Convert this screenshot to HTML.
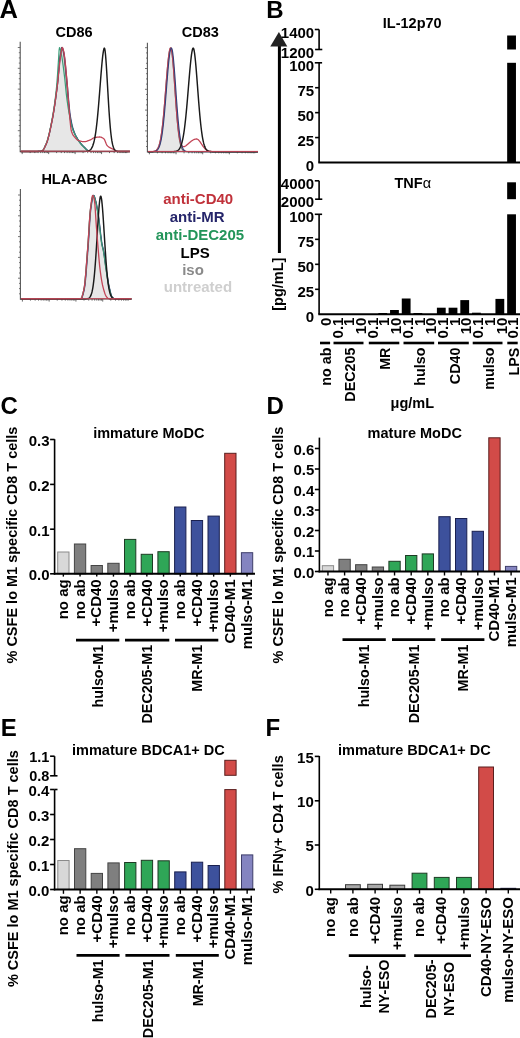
<!DOCTYPE html>
<html><head><meta charset="utf-8"><title>Figure</title>
<style>
html,body{margin:0;padding:0;background:#fff;}
body{width:520px;height:1038px;overflow:hidden;}
svg{display:block;will-change:transform;font-family:"Liberation Sans", sans-serif;}
</style></head>
<body>
<svg width="520" height="1038" viewBox="0 0 520 1038">
<rect x="0" y="0" width="520" height="1038" fill="#fff"/>
<text x="0.60" y="414.10" font-size="24" font-weight="bold" fill="#000">C</text>
<text x="93.20" y="438.30" text-anchor="start" font-size="14.5" font-weight="bold" fill="#000" >immature MoDC</text>
<text transform="translate(17.40,426.60) rotate(-90)" text-anchor="end" font-size="14.5" font-weight="bold" fill="#000" >% CSFE lo M1 specific CD8 T cells</text>
<rect x="57.70" y="552.00" width="11.30" height="21.80" fill="#d8d8d8" stroke="#8a8a8a" stroke-width="1"/>
<rect x="74.40" y="544.00" width="11.30" height="29.80" fill="#7f7f7f" stroke="#444444" stroke-width="1"/>
<rect x="91.10" y="565.50" width="11.30" height="8.30" fill="#7f7f7f" stroke="#444444" stroke-width="1"/>
<rect x="107.80" y="563.30" width="11.30" height="10.50" fill="#7f7f7f" stroke="#444444" stroke-width="1"/>
<rect x="124.50" y="539.40" width="11.30" height="34.40" fill="#2fa657" stroke="#1d3b24" stroke-width="1"/>
<rect x="141.20" y="554.30" width="11.30" height="19.50" fill="#2fa657" stroke="#1d3b24" stroke-width="1"/>
<rect x="157.90" y="551.70" width="11.30" height="22.10" fill="#2fa657" stroke="#1d3b24" stroke-width="1"/>
<rect x="174.60" y="507.00" width="11.30" height="66.80" fill="#3d519c" stroke="#1a2050" stroke-width="1"/>
<rect x="191.30" y="520.50" width="11.30" height="53.30" fill="#3d519c" stroke="#1a2050" stroke-width="1"/>
<rect x="208.00" y="516.10" width="11.30" height="57.70" fill="#3d519c" stroke="#1a2050" stroke-width="1"/>
<rect x="224.70" y="453.30" width="11.30" height="120.50" fill="#d24b48" stroke="#5a1e1e" stroke-width="1"/>
<rect x="241.40" y="552.70" width="11.30" height="21.10" fill="#8484c0" stroke="#3e3e6a" stroke-width="1"/>
<line x1="54.60" y1="439.20" x2="54.60" y2="574.60" stroke="#000" stroke-width="1.6" />
<line x1="53.80" y1="573.80" x2="255.00" y2="573.80" stroke="#000" stroke-width="2.0" />
<line x1="50.10" y1="439.50" x2="54.60" y2="439.50" stroke="#000" stroke-width="1.6" />
<text x="49.50" y="446.00" text-anchor="end" font-size="15" font-weight="bold" fill="#000" >0.3</text>
<line x1="50.10" y1="484.40" x2="54.60" y2="484.40" stroke="#000" stroke-width="1.6" />
<text x="49.50" y="490.90" text-anchor="end" font-size="15" font-weight="bold" fill="#000" >0.2</text>
<line x1="50.10" y1="529.20" x2="54.60" y2="529.20" stroke="#000" stroke-width="1.6" />
<text x="49.50" y="535.70" text-anchor="end" font-size="15" font-weight="bold" fill="#000" >0.1</text>
<line x1="50.10" y1="573.80" x2="54.60" y2="573.80" stroke="#000" stroke-width="1.6" />
<text x="49.50" y="580.30" text-anchor="end" font-size="15" font-weight="bold" fill="#000" >0.0</text>
<line x1="63.35" y1="573.80" x2="63.35" y2="576.60" stroke="#000" stroke-width="1.4" />
<text transform="translate(68.05,579.30) rotate(-90)" text-anchor="end" font-size="15" font-weight="bold" fill="#000" >no ag</text>
<line x1="80.05" y1="573.80" x2="80.05" y2="576.60" stroke="#000" stroke-width="1.4" />
<text transform="translate(84.75,579.30) rotate(-90)" text-anchor="end" font-size="15" font-weight="bold" fill="#000" >no ab</text>
<line x1="96.75" y1="573.80" x2="96.75" y2="576.60" stroke="#000" stroke-width="1.4" />
<text transform="translate(101.45,579.30) rotate(-90)" text-anchor="end" font-size="15" font-weight="bold" fill="#000" >+CD40</text>
<line x1="113.45" y1="573.80" x2="113.45" y2="576.60" stroke="#000" stroke-width="1.4" />
<text transform="translate(118.15,579.30) rotate(-90)" text-anchor="end" font-size="15" font-weight="bold" fill="#000" >+mulso</text>
<line x1="130.15" y1="573.80" x2="130.15" y2="576.60" stroke="#000" stroke-width="1.4" />
<text transform="translate(134.85,579.30) rotate(-90)" text-anchor="end" font-size="15" font-weight="bold" fill="#000" >no ab</text>
<line x1="146.85" y1="573.80" x2="146.85" y2="576.60" stroke="#000" stroke-width="1.4" />
<text transform="translate(151.55,579.30) rotate(-90)" text-anchor="end" font-size="15" font-weight="bold" fill="#000" >+CD40</text>
<line x1="163.55" y1="573.80" x2="163.55" y2="576.60" stroke="#000" stroke-width="1.4" />
<text transform="translate(168.25,579.30) rotate(-90)" text-anchor="end" font-size="15" font-weight="bold" fill="#000" >+mulso</text>
<line x1="180.25" y1="573.80" x2="180.25" y2="576.60" stroke="#000" stroke-width="1.4" />
<text transform="translate(184.95,579.30) rotate(-90)" text-anchor="end" font-size="15" font-weight="bold" fill="#000" >no ab</text>
<line x1="196.95" y1="573.80" x2="196.95" y2="576.60" stroke="#000" stroke-width="1.4" />
<text transform="translate(201.65,579.30) rotate(-90)" text-anchor="end" font-size="15" font-weight="bold" fill="#000" >+CD40</text>
<line x1="213.65" y1="573.80" x2="213.65" y2="576.60" stroke="#000" stroke-width="1.4" />
<text transform="translate(218.35,579.30) rotate(-90)" text-anchor="end" font-size="15" font-weight="bold" fill="#000" >+mulso</text>
<line x1="230.35" y1="573.80" x2="230.35" y2="576.60" stroke="#000" stroke-width="1.4" />
<text transform="translate(235.05,579.30) rotate(-90)" text-anchor="end" font-size="15" font-weight="bold" fill="#000" >CD40-M1</text>
<line x1="247.05" y1="573.80" x2="247.05" y2="576.60" stroke="#000" stroke-width="1.4" />
<text transform="translate(251.75,579.30) rotate(-90)" text-anchor="end" font-size="15" font-weight="bold" fill="#000" >mulso-M1</text>
<line x1="76.00" y1="640.10" x2="119.30" y2="640.10" stroke="#000" stroke-width="2.8" />
<text transform="translate(102.85,644.80) rotate(-90)" text-anchor="end" font-size="14.3" font-weight="bold" fill="#000" >hulso-M1</text>
<line x1="125.00" y1="640.10" x2="169.30" y2="640.10" stroke="#000" stroke-width="2.8" />
<text transform="translate(152.35,644.80) rotate(-90)" text-anchor="end" font-size="14.3" font-weight="bold" fill="#000" >DEC205-M1</text>
<line x1="175.00" y1="640.10" x2="218.30" y2="640.10" stroke="#000" stroke-width="2.8" />
<text transform="translate(201.85,644.80) rotate(-90)" text-anchor="end" font-size="14.3" font-weight="bold" fill="#000" >MR-M1</text>
<text x="266.50" y="414.20" font-size="24" font-weight="bold" fill="#000">D</text>
<text x="367.60" y="437.60" text-anchor="start" font-size="14.5" font-weight="bold" fill="#000" >mature MoDC</text>
<text transform="translate(282.80,426.60) rotate(-90)" text-anchor="end" font-size="14.5" font-weight="bold" fill="#000" >% CSFE lo M1 specific CD8 T cells</text>
<rect x="322.30" y="565.70" width="11.30" height="5.80" fill="#d8d8d8" stroke="#8a8a8a" stroke-width="1"/>
<rect x="338.95" y="559.30" width="11.30" height="12.20" fill="#7f7f7f" stroke="#444444" stroke-width="1"/>
<rect x="355.60" y="564.70" width="11.30" height="6.80" fill="#7f7f7f" stroke="#444444" stroke-width="1"/>
<rect x="372.25" y="567.00" width="11.30" height="4.50" fill="#7f7f7f" stroke="#444444" stroke-width="1"/>
<rect x="388.90" y="561.30" width="11.30" height="10.20" fill="#2fa657" stroke="#1d3b24" stroke-width="1"/>
<rect x="405.55" y="555.50" width="11.30" height="16.00" fill="#2fa657" stroke="#1d3b24" stroke-width="1"/>
<rect x="422.20" y="553.90" width="11.30" height="17.60" fill="#2fa657" stroke="#1d3b24" stroke-width="1"/>
<rect x="438.85" y="516.70" width="11.30" height="54.80" fill="#3d519c" stroke="#1a2050" stroke-width="1"/>
<rect x="455.50" y="518.50" width="11.30" height="53.00" fill="#3d519c" stroke="#1a2050" stroke-width="1"/>
<rect x="472.15" y="531.30" width="11.30" height="40.20" fill="#3d519c" stroke="#1a2050" stroke-width="1"/>
<rect x="488.80" y="437.80" width="11.30" height="133.70" fill="#d24b48" stroke="#5a1e1e" stroke-width="1"/>
<rect x="505.45" y="566.40" width="11.30" height="5.10" fill="#8484c0" stroke="#3e3e6a" stroke-width="1"/>
<line x1="319.40" y1="437.60" x2="319.40" y2="572.30" stroke="#000" stroke-width="1.6" />
<line x1="318.60" y1="571.50" x2="520.00" y2="571.50" stroke="#000" stroke-width="2.0" />
<line x1="314.90" y1="571.50" x2="319.40" y2="571.50" stroke="#000" stroke-width="1.6" />
<text x="314.40" y="577.70" text-anchor="end" font-size="15" font-weight="bold" fill="#000" >0.0</text>
<line x1="314.90" y1="551.00" x2="319.40" y2="551.00" stroke="#000" stroke-width="1.6" />
<text x="314.40" y="557.20" text-anchor="end" font-size="15" font-weight="bold" fill="#000" >0.1</text>
<line x1="314.90" y1="530.50" x2="319.40" y2="530.50" stroke="#000" stroke-width="1.6" />
<text x="314.40" y="536.70" text-anchor="end" font-size="15" font-weight="bold" fill="#000" >0.2</text>
<line x1="314.90" y1="510.00" x2="319.40" y2="510.00" stroke="#000" stroke-width="1.6" />
<text x="314.40" y="516.20" text-anchor="end" font-size="15" font-weight="bold" fill="#000" >0.3</text>
<line x1="314.90" y1="489.50" x2="319.40" y2="489.50" stroke="#000" stroke-width="1.6" />
<text x="314.40" y="495.70" text-anchor="end" font-size="15" font-weight="bold" fill="#000" >0.4</text>
<line x1="314.90" y1="469.00" x2="319.40" y2="469.00" stroke="#000" stroke-width="1.6" />
<text x="314.40" y="475.20" text-anchor="end" font-size="15" font-weight="bold" fill="#000" >0.5</text>
<line x1="314.90" y1="448.50" x2="319.40" y2="448.50" stroke="#000" stroke-width="1.6" />
<text x="314.40" y="454.70" text-anchor="end" font-size="15" font-weight="bold" fill="#000" >0.6</text>
<line x1="327.95" y1="571.50" x2="327.95" y2="575.50" stroke="#000" stroke-width="1.4" />
<text transform="translate(332.65,577.30) rotate(-90)" text-anchor="end" font-size="15" font-weight="bold" fill="#000" >no ag</text>
<line x1="344.60" y1="571.50" x2="344.60" y2="575.50" stroke="#000" stroke-width="1.4" />
<text transform="translate(349.30,577.30) rotate(-90)" text-anchor="end" font-size="15" font-weight="bold" fill="#000" >no ab</text>
<line x1="361.25" y1="571.50" x2="361.25" y2="575.50" stroke="#000" stroke-width="1.4" />
<text transform="translate(365.95,577.30) rotate(-90)" text-anchor="end" font-size="15" font-weight="bold" fill="#000" >+CD40</text>
<line x1="377.90" y1="571.50" x2="377.90" y2="575.50" stroke="#000" stroke-width="1.4" />
<text transform="translate(382.60,577.30) rotate(-90)" text-anchor="end" font-size="15" font-weight="bold" fill="#000" >+mulso</text>
<line x1="394.55" y1="571.50" x2="394.55" y2="575.50" stroke="#000" stroke-width="1.4" />
<text transform="translate(399.25,577.30) rotate(-90)" text-anchor="end" font-size="15" font-weight="bold" fill="#000" >no ab</text>
<line x1="411.20" y1="571.50" x2="411.20" y2="575.50" stroke="#000" stroke-width="1.4" />
<text transform="translate(415.90,577.30) rotate(-90)" text-anchor="end" font-size="15" font-weight="bold" fill="#000" >+CD40</text>
<line x1="427.85" y1="571.50" x2="427.85" y2="575.50" stroke="#000" stroke-width="1.4" />
<text transform="translate(432.55,577.30) rotate(-90)" text-anchor="end" font-size="15" font-weight="bold" fill="#000" >+mulso</text>
<line x1="444.50" y1="571.50" x2="444.50" y2="575.50" stroke="#000" stroke-width="1.4" />
<text transform="translate(449.20,577.30) rotate(-90)" text-anchor="end" font-size="15" font-weight="bold" fill="#000" >no ab</text>
<line x1="461.15" y1="571.50" x2="461.15" y2="575.50" stroke="#000" stroke-width="1.4" />
<text transform="translate(465.85,577.30) rotate(-90)" text-anchor="end" font-size="15" font-weight="bold" fill="#000" >+CD40</text>
<line x1="477.80" y1="571.50" x2="477.80" y2="575.50" stroke="#000" stroke-width="1.4" />
<text transform="translate(482.50,577.30) rotate(-90)" text-anchor="end" font-size="15" font-weight="bold" fill="#000" >+mulso</text>
<line x1="494.45" y1="571.50" x2="494.45" y2="575.50" stroke="#000" stroke-width="1.4" />
<text transform="translate(499.15,577.30) rotate(-90)" text-anchor="end" font-size="15" font-weight="bold" fill="#000" >CD40-M1</text>
<line x1="511.10" y1="571.50" x2="511.10" y2="575.50" stroke="#000" stroke-width="1.4" />
<text transform="translate(515.80,577.30) rotate(-90)" text-anchor="end" font-size="15" font-weight="bold" fill="#000" >mulso-M1</text>
<line x1="342.50" y1="639.70" x2="385.80" y2="639.70" stroke="#000" stroke-width="2.8" />
<text transform="translate(369.35,644.60) rotate(-90)" text-anchor="end" font-size="14.3" font-weight="bold" fill="#000" >hulso-M1</text>
<line x1="392.00" y1="639.70" x2="435.30" y2="639.70" stroke="#000" stroke-width="2.8" />
<text transform="translate(418.85,644.60) rotate(-90)" text-anchor="end" font-size="14.3" font-weight="bold" fill="#000" >DEC205-M1</text>
<line x1="441.10" y1="639.70" x2="484.40" y2="639.70" stroke="#000" stroke-width="2.8" />
<text transform="translate(467.95,644.60) rotate(-90)" text-anchor="end" font-size="14.3" font-weight="bold" fill="#000" >MR-M1</text>
<text x="0.70" y="735.50" font-size="24" font-weight="bold" fill="#000">E</text>
<text x="72.00" y="755.20" text-anchor="start" font-size="14.5" font-weight="bold" fill="#000" >immature BDCA1+ DC</text>
<text transform="translate(17.70,750.20) rotate(-90)" text-anchor="end" font-size="14.5" font-weight="bold" fill="#000" >% CSFE lo M1 specific CD8 T cells</text>
<rect x="57.80" y="860.50" width="11.30" height="29.00" fill="#d8d8d8" stroke="#8a8a8a" stroke-width="1"/>
<rect x="74.50" y="848.70" width="11.30" height="40.80" fill="#7f7f7f" stroke="#444444" stroke-width="1"/>
<rect x="91.20" y="873.40" width="11.30" height="16.10" fill="#7f7f7f" stroke="#444444" stroke-width="1"/>
<rect x="107.90" y="862.90" width="11.30" height="26.60" fill="#7f7f7f" stroke="#444444" stroke-width="1"/>
<rect x="124.60" y="862.50" width="11.30" height="27.00" fill="#2fa657" stroke="#1d3b24" stroke-width="1"/>
<rect x="141.30" y="860.30" width="11.30" height="29.20" fill="#2fa657" stroke="#1d3b24" stroke-width="1"/>
<rect x="158.00" y="860.80" width="11.30" height="28.70" fill="#2fa657" stroke="#1d3b24" stroke-width="1"/>
<rect x="174.70" y="871.90" width="11.30" height="17.60" fill="#3d519c" stroke="#1a2050" stroke-width="1"/>
<rect x="191.40" y="862.20" width="11.30" height="27.30" fill="#3d519c" stroke="#1a2050" stroke-width="1"/>
<rect x="208.10" y="865.50" width="11.30" height="24.00" fill="#3d519c" stroke="#1a2050" stroke-width="1"/>
<rect x="224.80" y="760.30" width="11.30" height="15.00" fill="#d24b48" stroke="#5a1e1e" stroke-width="1"/>
<rect x="224.80" y="789.60" width="11.30" height="99.90" fill="#d24b48" stroke="#5a1e1e" stroke-width="1"/>
<rect x="241.50" y="854.90" width="11.30" height="34.60" fill="#8484c0" stroke="#3e3e6a" stroke-width="1"/>
<line x1="54.60" y1="789.50" x2="54.60" y2="890.30" stroke="#000" stroke-width="1.6" />
<line x1="53.80" y1="889.50" x2="255.00" y2="889.50" stroke="#000" stroke-width="2.0" />
<line x1="50.10" y1="889.50" x2="54.60" y2="889.50" stroke="#000" stroke-width="1.6" />
<text x="49.30" y="895.50" text-anchor="end" font-size="15" font-weight="bold" fill="#000" >0.0</text>
<line x1="50.10" y1="864.50" x2="54.60" y2="864.50" stroke="#000" stroke-width="1.6" />
<text x="49.30" y="870.50" text-anchor="end" font-size="15" font-weight="bold" fill="#000" >0.1</text>
<line x1="50.10" y1="839.50" x2="54.60" y2="839.50" stroke="#000" stroke-width="1.6" />
<text x="49.30" y="845.50" text-anchor="end" font-size="15" font-weight="bold" fill="#000" >0.2</text>
<line x1="50.10" y1="814.50" x2="54.60" y2="814.50" stroke="#000" stroke-width="1.6" />
<text x="49.30" y="820.50" text-anchor="end" font-size="15" font-weight="bold" fill="#000" >0.3</text>
<line x1="50.10" y1="789.50" x2="54.60" y2="789.50" stroke="#000" stroke-width="1.6" />
<text x="49.30" y="795.50" text-anchor="end" font-size="15" font-weight="bold" fill="#000" >0.4</text>
<line x1="63.45" y1="889.50" x2="63.45" y2="893.80" stroke="#000" stroke-width="1.4" />
<text transform="translate(68.15,895.30) rotate(-90)" text-anchor="end" font-size="15" font-weight="bold" fill="#000" >no ag</text>
<line x1="80.15" y1="889.50" x2="80.15" y2="893.80" stroke="#000" stroke-width="1.4" />
<text transform="translate(84.85,895.30) rotate(-90)" text-anchor="end" font-size="15" font-weight="bold" fill="#000" >no ab</text>
<line x1="96.85" y1="889.50" x2="96.85" y2="893.80" stroke="#000" stroke-width="1.4" />
<text transform="translate(101.55,895.30) rotate(-90)" text-anchor="end" font-size="15" font-weight="bold" fill="#000" >+CD40</text>
<line x1="113.55" y1="889.50" x2="113.55" y2="893.80" stroke="#000" stroke-width="1.4" />
<text transform="translate(118.25,895.30) rotate(-90)" text-anchor="end" font-size="15" font-weight="bold" fill="#000" >+mulso</text>
<line x1="130.25" y1="889.50" x2="130.25" y2="893.80" stroke="#000" stroke-width="1.4" />
<text transform="translate(134.95,895.30) rotate(-90)" text-anchor="end" font-size="15" font-weight="bold" fill="#000" >no ab</text>
<line x1="146.95" y1="889.50" x2="146.95" y2="893.80" stroke="#000" stroke-width="1.4" />
<text transform="translate(151.65,895.30) rotate(-90)" text-anchor="end" font-size="15" font-weight="bold" fill="#000" >+CD40</text>
<line x1="163.65" y1="889.50" x2="163.65" y2="893.80" stroke="#000" stroke-width="1.4" />
<text transform="translate(168.35,895.30) rotate(-90)" text-anchor="end" font-size="15" font-weight="bold" fill="#000" >+mulso</text>
<line x1="180.35" y1="889.50" x2="180.35" y2="893.80" stroke="#000" stroke-width="1.4" />
<text transform="translate(185.05,895.30) rotate(-90)" text-anchor="end" font-size="15" font-weight="bold" fill="#000" >no ab</text>
<line x1="197.05" y1="889.50" x2="197.05" y2="893.80" stroke="#000" stroke-width="1.4" />
<text transform="translate(201.75,895.30) rotate(-90)" text-anchor="end" font-size="15" font-weight="bold" fill="#000" >+CD40</text>
<line x1="213.75" y1="889.50" x2="213.75" y2="893.80" stroke="#000" stroke-width="1.4" />
<text transform="translate(218.45,895.30) rotate(-90)" text-anchor="end" font-size="15" font-weight="bold" fill="#000" >+mulso</text>
<line x1="230.45" y1="889.50" x2="230.45" y2="893.80" stroke="#000" stroke-width="1.4" />
<text transform="translate(235.15,895.30) rotate(-90)" text-anchor="end" font-size="15" font-weight="bold" fill="#000" >CD40-M1</text>
<line x1="247.15" y1="889.50" x2="247.15" y2="893.80" stroke="#000" stroke-width="1.4" />
<text transform="translate(251.85,895.30) rotate(-90)" text-anchor="end" font-size="15" font-weight="bold" fill="#000" >mulso-M1</text>
<line x1="76.50" y1="955.40" x2="119.60" y2="955.40" stroke="#000" stroke-width="2.8" />
<text transform="translate(103.25,959.50) rotate(-90)" text-anchor="end" font-size="14.3" font-weight="bold" fill="#000" >hulso-M1</text>
<line x1="125.40" y1="955.40" x2="169.50" y2="955.40" stroke="#000" stroke-width="2.8" />
<text transform="translate(152.65,959.50) rotate(-90)" text-anchor="end" font-size="14.3" font-weight="bold" fill="#000" >DEC205-M1</text>
<line x1="175.80" y1="955.40" x2="218.80" y2="955.40" stroke="#000" stroke-width="2.8" />
<text transform="translate(202.50,959.50) rotate(-90)" text-anchor="end" font-size="14.3" font-weight="bold" fill="#000" >MR-M1</text>
<line x1="54.60" y1="756.20" x2="54.60" y2="775.80" stroke="#000" stroke-width="1.6" />
<line x1="50.10" y1="756.20" x2="54.60" y2="756.20" stroke="#000" stroke-width="1.6" />
<line x1="50.10" y1="775.80" x2="57.50" y2="775.80" stroke="#000" stroke-width="1.6" />
<line x1="54.60" y1="789.50" x2="57.50" y2="789.50" stroke="#000" stroke-width="1.6" />
<text x="49.30" y="762.20" text-anchor="end" font-size="14.5" font-weight="bold" fill="#000" >1.1</text>
<text x="49.30" y="781.40" text-anchor="end" font-size="14.5" font-weight="bold" fill="#000" >0.8</text>
<text x="265.60" y="735.50" font-size="24" font-weight="bold" fill="#000">F</text>
<text x="338.00" y="755.00" text-anchor="start" font-size="14.5" font-weight="bold" fill="#000" >immature BDCA1+ DC</text>
<text transform="translate(282.80,755.30) rotate(-90)" text-anchor="end" font-size="14.5" font-weight="bold" fill="#000" >% IFN<tspan font-weight="normal">&#947;</tspan>+ CD4 T cells</text>
<rect x="345.50" y="884.70" width="14.80" height="4.60" fill="#a9a9a9" stroke="#3a3a3a" stroke-width="1"/>
<rect x="367.70" y="884.30" width="14.80" height="5.00" fill="#a9a9a9" stroke="#3a3a3a" stroke-width="1"/>
<rect x="389.90" y="885.20" width="14.80" height="4.10" fill="#a9a9a9" stroke="#3a3a3a" stroke-width="1"/>
<rect x="412.10" y="873.20" width="14.80" height="16.10" fill="#2fa657" stroke="#1d3b24" stroke-width="1"/>
<rect x="434.30" y="877.40" width="14.80" height="11.90" fill="#2fa657" stroke="#1d3b24" stroke-width="1"/>
<rect x="456.50" y="877.40" width="14.80" height="11.90" fill="#2fa657" stroke="#1d3b24" stroke-width="1"/>
<rect x="478.70" y="767.00" width="14.80" height="122.30" fill="#d24b48" stroke="#5a1e1e" stroke-width="1"/>
<rect x="500.90" y="888.30" width="14.80" height="1.00" fill="#8484c0" stroke="#3e3e6a" stroke-width="1"/>
<line x1="319.30" y1="756.00" x2="319.30" y2="890.10" stroke="#000" stroke-width="1.6" />
<line x1="318.50" y1="889.30" x2="520.00" y2="889.30" stroke="#000" stroke-width="2.0" />
<line x1="314.80" y1="889.30" x2="319.30" y2="889.30" stroke="#000" stroke-width="1.6" />
<text x="313.80" y="895.50" text-anchor="end" font-size="15" font-weight="bold" fill="#000" >0</text>
<line x1="314.80" y1="845.00" x2="319.30" y2="845.00" stroke="#000" stroke-width="1.6" />
<text x="313.80" y="851.20" text-anchor="end" font-size="15" font-weight="bold" fill="#000" >5</text>
<line x1="314.80" y1="800.80" x2="319.30" y2="800.80" stroke="#000" stroke-width="1.6" />
<text x="313.80" y="807.00" text-anchor="end" font-size="15" font-weight="bold" fill="#000" >10</text>
<line x1="314.80" y1="756.40" x2="319.30" y2="756.40" stroke="#000" stroke-width="1.6" />
<text x="313.80" y="762.60" text-anchor="end" font-size="15" font-weight="bold" fill="#000" >15</text>
<line x1="330.70" y1="889.30" x2="330.70" y2="893.60" stroke="#000" stroke-width="1.4" />
<text transform="translate(335.40,897.00) rotate(-90)" text-anchor="end" font-size="15" font-weight="bold" fill="#000" >no ag</text>
<line x1="352.90" y1="889.30" x2="352.90" y2="893.60" stroke="#000" stroke-width="1.4" />
<text transform="translate(357.60,897.00) rotate(-90)" text-anchor="end" font-size="15" font-weight="bold" fill="#000" >no ab</text>
<line x1="375.10" y1="889.30" x2="375.10" y2="893.60" stroke="#000" stroke-width="1.4" />
<text transform="translate(379.80,897.00) rotate(-90)" text-anchor="end" font-size="15" font-weight="bold" fill="#000" >+CD40</text>
<line x1="397.30" y1="889.30" x2="397.30" y2="893.60" stroke="#000" stroke-width="1.4" />
<text transform="translate(402.00,897.00) rotate(-90)" text-anchor="end" font-size="15" font-weight="bold" fill="#000" >+mulso</text>
<line x1="419.50" y1="889.30" x2="419.50" y2="893.60" stroke="#000" stroke-width="1.4" />
<text transform="translate(424.20,897.00) rotate(-90)" text-anchor="end" font-size="15" font-weight="bold" fill="#000" >no ab</text>
<line x1="441.70" y1="889.30" x2="441.70" y2="893.60" stroke="#000" stroke-width="1.4" />
<text transform="translate(446.40,897.00) rotate(-90)" text-anchor="end" font-size="15" font-weight="bold" fill="#000" >+CD40</text>
<line x1="463.90" y1="889.30" x2="463.90" y2="893.60" stroke="#000" stroke-width="1.4" />
<text transform="translate(468.60,897.00) rotate(-90)" text-anchor="end" font-size="15" font-weight="bold" fill="#000" >+mulso</text>
<line x1="486.10" y1="889.30" x2="486.10" y2="893.60" stroke="#000" stroke-width="1.4" />
<text transform="translate(490.80,897.00) rotate(-90)" text-anchor="end" font-size="15" font-weight="bold" fill="#000" >CD40-NY-ESO</text>
<line x1="508.30" y1="889.30" x2="508.30" y2="893.60" stroke="#000" stroke-width="1.4" />
<text transform="translate(513.00,897.00) rotate(-90)" text-anchor="end" font-size="15" font-weight="bold" fill="#000" >mulso-NY-ESO</text>
<line x1="348.80" y1="955.60" x2="405.60" y2="955.60" stroke="#000" stroke-width="2.8" />
<text transform="translate(370.90,986.60) rotate(-90)" text-anchor="middle" font-size="14.3" font-weight="bold" fill="#000" >hulso-</text>
<text transform="translate(388.50,986.60) rotate(-90)" text-anchor="middle" font-size="14.3" font-weight="bold" fill="#000" >NY-ESO</text>
<line x1="414.20" y1="955.60" x2="471.00" y2="955.60" stroke="#000" stroke-width="2.8" />
<text transform="translate(436.30,989.00) rotate(-90)" text-anchor="middle" font-size="14.3" font-weight="bold" fill="#000" >DEC205-</text>
<text transform="translate(453.90,989.00) rotate(-90)" text-anchor="middle" font-size="14.3" font-weight="bold" fill="#000" >NY-ESO</text>
<text x="266.30" y="17.60" font-size="24" font-weight="bold" fill="#000">B</text>
<text x="382.80" y="28.30" text-anchor="start" font-size="14.5" font-weight="bold" fill="#000" >IL-12p70</text>
<text x="394.50" y="187.50" text-anchor="start" font-size="14.5" font-weight="bold" fill="#000" >TNF<tspan font-weight="normal">&#945;</tspan></text>
<line x1="319.10" y1="29.50" x2="319.10" y2="49.50" stroke="#000" stroke-width="1.6" />
<line x1="314.80" y1="29.50" x2="319.10" y2="29.50" stroke="#000" stroke-width="1.6" />
<line x1="315.10" y1="49.50" x2="322.30" y2="49.50" stroke="#000" stroke-width="1.6" />
<line x1="319.10" y1="62.80" x2="319.10" y2="162.50" stroke="#000" stroke-width="1.6" />
<line x1="314.80" y1="62.80" x2="322.10" y2="62.80" stroke="#000" stroke-width="1.6" />
<line x1="315.10" y1="137.57" x2="319.10" y2="137.57" stroke="#000" stroke-width="1.6" />
<line x1="315.10" y1="112.65" x2="319.10" y2="112.65" stroke="#000" stroke-width="1.6" />
<line x1="315.10" y1="87.72" x2="319.10" y2="87.72" stroke="#000" stroke-width="1.6" />
<line x1="318.30" y1="162.50" x2="520.00" y2="162.50" stroke="#000" stroke-width="2.0" />
<rect x="507.16" y="35.50" width="8.80" height="14.00" fill="#000"/>
<rect x="507.16" y="62.80" width="8.80" height="99.70" fill="#000"/>
<text x="314.20" y="37.60" text-anchor="end" font-size="15" font-weight="bold" fill="#000" >1400</text>
<text x="314.20" y="57.60" text-anchor="end" font-size="15" font-weight="bold" fill="#000" >1200</text>
<text x="314.20" y="70.90" text-anchor="end" font-size="15" font-weight="bold" fill="#000" >100</text>
<text x="314.20" y="95.80" text-anchor="end" font-size="15" font-weight="bold" fill="#000" >75</text>
<text x="314.20" y="120.90" text-anchor="end" font-size="15" font-weight="bold" fill="#000" >50</text>
<text x="314.20" y="145.80" text-anchor="end" font-size="15" font-weight="bold" fill="#000" >25</text>
<text x="314.20" y="170.60" text-anchor="end" font-size="15" font-weight="bold" fill="#000" >0</text>
<line x1="319.10" y1="180.80" x2="319.10" y2="199.20" stroke="#000" stroke-width="1.6" />
<line x1="314.80" y1="180.80" x2="319.10" y2="180.80" stroke="#000" stroke-width="1.6" />
<line x1="315.10" y1="199.20" x2="322.30" y2="199.20" stroke="#000" stroke-width="1.6" />
<line x1="319.10" y1="214.30" x2="319.10" y2="314.30" stroke="#000" stroke-width="1.6" />
<line x1="314.80" y1="214.30" x2="322.10" y2="214.30" stroke="#000" stroke-width="1.6" />
<line x1="315.10" y1="289.31" x2="319.10" y2="289.31" stroke="#000" stroke-width="1.6" />
<line x1="315.10" y1="264.32" x2="319.10" y2="264.32" stroke="#000" stroke-width="1.6" />
<line x1="315.10" y1="239.34" x2="319.10" y2="239.34" stroke="#000" stroke-width="1.6" />
<line x1="318.30" y1="314.30" x2="520.00" y2="314.30" stroke="#000" stroke-width="2.0" />
<rect x="378.35" y="313.00" width="8.80" height="1.30" fill="#000"/>
<rect x="390.06" y="310.00" width="8.80" height="4.30" fill="#000"/>
<rect x="401.77" y="298.50" width="8.80" height="15.80" fill="#000"/>
<rect x="413.48" y="313.00" width="8.80" height="1.30" fill="#000"/>
<rect x="436.90" y="307.70" width="8.80" height="6.60" fill="#000"/>
<rect x="448.61" y="307.70" width="8.80" height="6.60" fill="#000"/>
<rect x="460.32" y="300.10" width="8.80" height="14.20" fill="#000"/>
<rect x="472.03" y="312.70" width="8.80" height="1.60" fill="#000"/>
<rect x="495.45" y="298.90" width="8.80" height="15.40" fill="#000"/>
<rect x="507.16" y="182.30" width="8.80" height="16.90" fill="#000"/>
<rect x="507.16" y="214.30" width="8.80" height="100.00" fill="#000"/>
<text x="314.20" y="188.90" text-anchor="end" font-size="15" font-weight="bold" fill="#000" >4000</text>
<text x="314.20" y="207.30" text-anchor="end" font-size="15" font-weight="bold" fill="#000" >2000</text>
<text x="314.20" y="222.40" text-anchor="end" font-size="15" font-weight="bold" fill="#000" >100</text>
<text x="314.20" y="247.30" text-anchor="end" font-size="15" font-weight="bold" fill="#000" >75</text>
<text x="314.20" y="272.30" text-anchor="end" font-size="15" font-weight="bold" fill="#000" >50</text>
<text x="314.20" y="297.00" text-anchor="end" font-size="15" font-weight="bold" fill="#000" >25</text>
<text x="314.20" y="322.40" text-anchor="end" font-size="15" font-weight="bold" fill="#000" >0</text>
<line x1="279.40" y1="44.00" x2="279.40" y2="253.00" stroke="#000" stroke-width="3.0" />
<polygon points="278.9,32.0 270.3,46.5 287.3,46.5" fill="#222"/>
<text transform="translate(283.00,257.60) rotate(-90)" text-anchor="end" font-size="14.5" font-weight="bold" fill="#000" >[pg/mL]</text>
<text transform="translate(330.90,317.60) rotate(-90)" text-anchor="end" font-size="15" font-weight="bold" fill="#000" >0</text>
<text transform="translate(342.61,317.60) rotate(-90)" text-anchor="end" font-size="15" font-weight="bold" fill="#000" >0.1</text>
<text transform="translate(354.32,317.60) rotate(-90)" text-anchor="end" font-size="15" font-weight="bold" fill="#000" >1</text>
<text transform="translate(366.03,317.60) rotate(-90)" text-anchor="end" font-size="15" font-weight="bold" fill="#000" >10</text>
<text transform="translate(377.74,317.60) rotate(-90)" text-anchor="end" font-size="15" font-weight="bold" fill="#000" >0.1</text>
<text transform="translate(389.45,317.60) rotate(-90)" text-anchor="end" font-size="15" font-weight="bold" fill="#000" >1</text>
<text transform="translate(401.16,317.60) rotate(-90)" text-anchor="end" font-size="15" font-weight="bold" fill="#000" >10</text>
<text transform="translate(412.87,317.60) rotate(-90)" text-anchor="end" font-size="15" font-weight="bold" fill="#000" >0.1</text>
<text transform="translate(424.58,317.60) rotate(-90)" text-anchor="end" font-size="15" font-weight="bold" fill="#000" >1</text>
<text transform="translate(436.29,317.60) rotate(-90)" text-anchor="end" font-size="15" font-weight="bold" fill="#000" >10</text>
<text transform="translate(448.00,317.60) rotate(-90)" text-anchor="end" font-size="15" font-weight="bold" fill="#000" >0.1</text>
<text transform="translate(459.71,317.60) rotate(-90)" text-anchor="end" font-size="15" font-weight="bold" fill="#000" >1</text>
<text transform="translate(471.42,317.60) rotate(-90)" text-anchor="end" font-size="15" font-weight="bold" fill="#000" >10</text>
<text transform="translate(483.13,317.60) rotate(-90)" text-anchor="end" font-size="15" font-weight="bold" fill="#000" >0.1</text>
<text transform="translate(494.84,317.60) rotate(-90)" text-anchor="end" font-size="15" font-weight="bold" fill="#000" >1</text>
<text transform="translate(506.55,317.60) rotate(-90)" text-anchor="end" font-size="15" font-weight="bold" fill="#000" >10</text>
<text transform="translate(518.26,317.60) rotate(-90)" text-anchor="end" font-size="15" font-weight="bold" fill="#000" >0.1</text>
<line x1="320.00" y1="343.00" x2="330.10" y2="343.00" stroke="#000" stroke-width="2.6" />
<text transform="translate(331.35,347.60) rotate(-90)" text-anchor="end" font-size="14.3" font-weight="bold" fill="#000" >no ab</text>
<line x1="333.50" y1="343.00" x2="363.50" y2="343.00" stroke="#000" stroke-width="2.6" />
<text transform="translate(354.80,347.60) rotate(-90)" text-anchor="end" font-size="14.3" font-weight="bold" fill="#000" >DEC205</text>
<line x1="368.80" y1="343.00" x2="399.30" y2="343.00" stroke="#000" stroke-width="2.6" />
<text transform="translate(390.35,347.60) rotate(-90)" text-anchor="end" font-size="14.3" font-weight="bold" fill="#000" >MR</text>
<line x1="403.50" y1="343.00" x2="434.20" y2="343.00" stroke="#000" stroke-width="2.6" />
<text transform="translate(425.15,347.60) rotate(-90)" text-anchor="end" font-size="14.3" font-weight="bold" fill="#000" >hulso</text>
<line x1="438.00" y1="343.00" x2="468.80" y2="343.00" stroke="#000" stroke-width="2.6" />
<text transform="translate(459.70,347.60) rotate(-90)" text-anchor="end" font-size="14.3" font-weight="bold" fill="#000" >CD40</text>
<line x1="472.70" y1="343.00" x2="502.50" y2="343.00" stroke="#000" stroke-width="2.6" />
<text transform="translate(493.90,347.60) rotate(-90)" text-anchor="end" font-size="14.3" font-weight="bold" fill="#000" >mulso</text>
<line x1="507.30" y1="343.00" x2="517.70" y2="343.00" stroke="#000" stroke-width="2.6" />
<text transform="translate(518.80,347.60) rotate(-90)" text-anchor="end" font-size="14.3" font-weight="bold" fill="#000" >LPS</text>
<text x="412.30" y="407.70" text-anchor="middle" font-size="14.5" font-weight="bold" fill="#000" >&#956;g/mL</text>
<text x="-0.5" y="17.8" font-size="25.5" font-weight="bold" fill="#000">A</text>
<text x="74.00" y="36.80" text-anchor="middle" font-size="14.5" font-weight="bold" fill="#000" >CD86</text>
<text x="200.30" y="36.80" text-anchor="middle" font-size="14.5" font-weight="bold" fill="#000" >CD83</text>
<text x="74.40" y="183.80" text-anchor="middle" font-size="14.5" font-weight="bold" fill="#000" >HLA-ABC</text>
<text x="198.20" y="204.40" text-anchor="middle" font-size="15" font-weight="bold" fill="#c0313a" >anti-CD40</text>
<text x="197.20" y="222.30" text-anchor="middle" font-size="15" font-weight="bold" fill="#25256a" >anti-MR</text>
<text x="199.90" y="240.40" text-anchor="middle" font-size="15" font-weight="bold" fill="#23955a" >anti-DEC205</text>
<text x="195.20" y="258.30" text-anchor="middle" font-size="15" font-weight="bold" fill="#000" >LPS</text>
<text x="193.00" y="274.60" text-anchor="middle" font-size="15" font-weight="bold" fill="#8a8a8a" >iso</text>
<text x="197.90" y="292.00" text-anchor="middle" font-size="15" font-weight="bold" fill="#cfcfcf" >untreated</text>
<path d="M20.20,151.50 L20.60,151.50 L21.00,151.50 L21.40,151.50 L21.80,151.50 L22.20,151.50 L22.60,151.50 L23.00,151.50 L23.40,151.50 L23.80,151.50 L24.20,151.50 L24.60,151.50 L25.00,151.50 L25.40,151.50 L25.80,151.50 L26.20,151.50 L26.60,151.50 L27.00,151.50 L27.40,151.50 L27.80,151.50 L28.20,151.50 L28.60,151.50 L29.00,151.50 L29.40,151.50 L29.80,151.50 L30.20,151.50 L30.60,151.50 L31.00,151.50 L31.40,151.50 L31.80,151.50 L32.20,151.50 L32.60,151.50 L33.00,151.50 L33.40,151.50 L33.80,151.50 L34.20,151.50 L34.60,151.50 L35.00,151.50 L35.40,151.50 L35.80,151.50 L36.20,151.50 L36.60,151.50 L37.00,151.49 L37.40,151.48 L37.80,151.47 L38.20,151.45 L38.60,151.44 L39.00,151.41 L39.40,151.39 L39.80,151.36 L40.20,151.33 L40.60,151.30 L41.00,151.26 L41.40,151.22 L41.80,151.16 L42.20,150.97 L42.60,150.64 L43.00,150.19 L43.40,149.63 L43.80,148.98 L44.20,148.26 L44.60,147.47 L45.00,146.64 L45.40,145.77 L45.80,144.89 L46.20,144.00 L46.60,143.05 L47.00,141.97 L47.40,140.77 L47.80,139.46 L48.20,138.04 L48.60,136.53 L49.00,134.93 L49.40,133.25 L49.80,131.50 L50.20,129.69 L50.60,127.83 L51.00,125.92 L51.40,123.97 L51.80,122.00 L52.20,119.99 L52.60,117.89 L53.00,115.69 L53.40,113.38 L53.80,110.98 L54.20,108.47 L54.60,105.86 L55.00,103.15 L55.40,100.34 L55.80,97.43 L56.20,94.43 L56.60,91.33 L57.00,88.13 L57.40,84.75 L57.80,80.73 L58.20,76.23 L58.60,71.49 L59.00,66.76 L59.40,62.29 L59.80,58.34 L60.20,55.15 L60.60,52.59 L61.00,50.12 L61.40,48.25 L61.80,47.50 L62.20,47.96 L62.60,49.13 L63.00,50.68 L63.40,52.42 L63.80,54.82 L64.20,57.87 L64.60,61.45 L65.00,65.41 L65.40,69.63 L65.80,73.98 L66.20,78.32 L66.60,82.56 L67.00,87.20 L67.40,92.15 L67.80,97.04 L68.20,101.50 L68.60,105.63 L69.00,109.52 L69.40,112.82 L69.80,115.40 L70.20,117.76 L70.60,119.92 L71.00,121.91 L71.40,123.72 L71.80,125.36 L72.20,126.85 L72.60,128.19 L73.00,129.40 L73.40,130.53 L73.80,131.60 L74.20,132.59 L74.60,133.53 L75.00,134.41 L75.40,135.25 L75.80,136.03 L76.20,136.79 L76.60,137.50 L77.00,138.20 L77.40,138.87 L77.80,139.52 L78.20,140.15 L78.60,140.76 L79.00,141.35 L79.40,141.92 L79.80,142.47 L80.20,143.01 L80.60,143.52 L81.00,144.02 L81.40,144.49 L81.80,144.95 L82.20,145.38 L82.60,145.80 L83.00,146.20 L83.40,146.59 L83.80,146.99 L84.20,147.40 L84.60,147.82 L85.00,148.23 L85.40,148.63 L85.80,149.03 L86.20,149.41 L86.60,149.78 L87.00,150.12 L87.40,150.43 L87.80,150.71 L88.20,150.96 L88.60,151.16 L89.00,151.32 L89.40,151.43 L89.80,151.49 L90.20,151.50 L90.60,151.50 L91.00,151.50 L91.40,151.50 L91.80,151.50 L92.20,151.50 L92.60,151.50 L93.00,151.50 L93.40,151.50 L93.80,151.50 L94.20,151.50 L94.60,151.50 L95.00,151.50 L95.40,151.50 L95.80,151.50 L96.20,151.50 L96.60,151.50 L97.00,151.50 L97.40,151.50 L97.80,151.50 L98.20,151.50 L98.60,151.50 L99.00,151.50 L99.40,151.50 L99.80,151.50 L100.20,151.50 L100.60,151.50 L101.00,151.50 L101.40,151.50 L101.80,151.50 L102.20,151.50 L102.60,151.50 L103.00,151.50 L103.40,151.50 L103.80,151.50 L104.20,151.50 L104.60,151.50 L105.00,151.50 L105.40,151.50 L105.80,151.50 L106.20,151.50 L106.60,151.50 L107.00,151.50 L107.40,151.50 L107.80,151.50 L108.20,151.50 L108.60,151.50 L109.00,151.50 L109.40,151.50 L109.80,151.50 L110.20,151.50 L110.60,151.50 L111.00,151.50 L111.40,151.50 L111.80,151.50 L112.20,151.50 L112.60,151.50 L113.00,151.50 L113.40,151.50 L113.80,151.50 L114.20,151.50 L114.60,151.50 L115.00,151.50 L115.40,151.50 L115.80,151.50 L116.20,151.50 L116.60,151.50 L117.00,151.50 L117.40,151.50 L117.80,151.50 L118.20,151.50 L118.60,151.50 L119.00,151.50 L119.40,151.50 L119.80,151.50 L120.20,151.50 L120.60,151.50 L121.00,151.50 L121.40,151.50 L121.80,151.50 L122.20,151.50 L122.60,151.50 L123.00,151.50 L123.40,151.50 L123.80,151.50 L124.20,151.50 L124.60,151.50 L125.00,151.50 L125.40,151.50 L125.80,151.50 L126.20,151.50 L126.60,151.50 L127.00,151.50 L127.40,151.50 L127.80,151.50 L128.20,151.50 L128.60,151.50 L129.00,151.50 L129.40,151.50 L129.80,151.50 L130.00,151.50 L20.20,151.50 Z" fill="#e7e7e7" stroke="none"/>
<path d="M20.70,151.50 L21.10,151.50 L21.50,151.50 L21.90,151.50 L22.30,151.50 L22.70,151.50 L23.10,151.50 L23.50,151.50 L23.90,151.50 L24.30,151.50 L24.70,151.50 L25.10,151.50 L25.50,151.50 L25.90,151.50 L26.30,151.50 L26.70,151.50 L27.10,151.50 L27.50,151.50 L27.90,151.50 L28.30,151.50 L28.70,151.50 L29.10,151.50 L29.50,151.50 L29.90,151.50 L30.30,151.50 L30.70,151.50 L31.10,151.50 L31.50,151.50 L31.90,151.50 L32.30,151.50 L32.70,151.50 L33.10,151.50 L33.50,151.50 L33.90,151.50 L34.30,151.50 L34.70,151.50 L35.10,151.50 L35.50,151.50 L35.90,151.50 L36.30,151.50 L36.70,151.50 L37.10,151.49 L37.50,151.48 L37.90,151.47 L38.30,151.45 L38.70,151.43 L39.10,151.41 L39.50,151.38 L39.90,151.35 L40.30,151.32 L40.70,151.29 L41.10,151.25 L41.50,151.21 L41.90,151.12 L42.30,150.90 L42.70,150.54 L43.10,150.06 L43.50,149.48 L43.90,148.81 L44.30,148.07 L44.70,147.27 L45.10,146.42 L45.50,145.55 L45.90,144.66 L46.30,143.77 L46.70,142.79 L47.10,141.68 L47.50,140.45 L47.90,139.11 L48.30,137.67 L48.70,136.14 L49.10,134.51 L49.50,132.82 L49.90,131.05 L50.30,129.23 L50.70,127.35 L51.10,125.43 L51.50,123.48 L51.90,121.50 L52.30,119.47 L52.70,117.35 L53.10,115.12 L53.50,112.79 L53.90,110.36 L54.30,107.82 L54.70,105.19 L55.10,102.46 L55.50,99.62 L55.90,96.69 L56.30,93.66 L56.70,90.54 L57.10,87.32 L57.50,83.81 L57.90,79.64 L58.30,75.06 L58.70,70.29 L59.10,65.61 L59.50,61.24 L59.90,57.46 L60.30,54.50 L60.70,51.95 L61.10,49.58 L61.50,47.93 L61.90,47.53 L62.30,48.20 L62.70,49.49 L63.10,51.09 L63.50,52.95 L63.90,55.53 L64.30,58.72 L64.70,62.41 L65.10,66.45 L65.50,70.71 L65.90,75.07 L66.30,79.39 L66.70,83.67 L67.10,88.42 L67.50,93.39 L67.90,98.21 L68.30,102.53 L68.70,106.64 L69.10,110.42 L69.50,113.50 L69.90,116.01 L70.30,118.31 L70.70,120.44 L71.10,122.38 L71.50,124.14 L71.90,125.75 L72.30,127.20 L72.70,128.50 L73.10,129.69 L73.50,130.81 L73.90,131.85 L74.30,132.83 L74.70,133.76 L75.10,134.62 L75.50,135.45 L75.90,136.23 L76.30,136.97 L76.70,137.68 L77.10,138.36 L77.50,139.03 L77.90,139.68 L78.30,140.30 L78.70,140.91 L79.10,141.49 L79.50,142.06 L79.90,142.61 L80.30,143.14 L80.70,143.65 L81.10,144.14 L81.50,144.61 L81.90,145.06 L82.30,145.49 L82.70,145.90 L83.10,146.30 L83.50,146.69 L83.90,147.10 L84.30,147.51 L84.70,147.92 L85.10,148.33 L85.50,148.73 L85.90,149.13 L86.30,149.51 L86.70,149.86 L87.10,150.20 L87.50,150.50 L87.90,150.78 L88.30,151.01 L88.70,151.21 L89.10,151.36 L89.50,151.45 L89.90,151.50 L90.30,151.50 L90.70,151.50 L91.10,151.50 L91.50,151.50 L91.90,151.50 L92.30,151.50 L92.70,151.50 L93.10,151.50 L93.50,151.50 L93.90,151.50 L94.30,151.50 L94.70,151.50 L95.10,151.50 L95.50,151.50 L95.90,151.50 L96.30,151.50 L96.70,151.50 L97.10,151.50 L97.50,151.50 L97.90,151.50 L98.30,151.50 L98.70,151.50 L99.10,151.50 L99.50,151.50 L99.90,151.50 L100.30,151.50 L100.70,151.50 L101.10,151.50 L101.50,151.50 L101.90,151.50 L102.30,151.50 L102.70,151.50 L103.10,151.50 L103.50,151.50 L103.90,151.50 L104.30,151.50 L104.70,151.50 L105.10,151.50 L105.50,151.50 L105.90,151.50 L106.30,151.50 L106.70,151.50 L107.10,151.50 L107.50,151.50 L107.90,151.50 L108.30,151.50 L108.70,151.50 L109.10,151.50 L109.50,151.50 L109.90,151.50 L110.30,151.50 L110.70,151.50 L111.10,151.50 L111.50,151.50 L111.90,151.50 L112.30,151.50 L112.70,151.50 L113.10,151.50 L113.50,151.50 L113.90,151.50 L114.30,151.50 L114.70,151.50 L115.10,151.50 L115.50,151.50 L115.90,151.50 L116.30,151.50 L116.70,151.50 L117.10,151.50 L117.50,151.50 L117.90,151.50 L118.30,151.50 L118.70,151.50 L119.10,151.50 L119.50,151.50 L119.90,151.50 L120.30,151.50 L120.70,151.50 L121.10,151.50 L121.50,151.50 L121.90,151.50 L122.30,151.50 L122.70,151.50 L123.10,151.50 L123.50,151.50 L123.90,151.50 L124.30,151.50 L124.70,151.50 L125.10,151.50 L125.50,151.50 L125.90,151.50 L126.30,151.50 L126.70,151.50 L127.10,151.50 L127.50,151.50 L127.90,151.50 L128.30,151.50 L128.70,151.50 L129.10,151.50 L129.50,151.50 L129.90,151.50" fill="none" stroke="#6a6a6a" stroke-width="1.3" stroke-linejoin="round"/>
<path d="M20.70,151.50 L21.10,151.50 L21.50,151.50 L21.90,151.50 L22.30,151.50 L22.70,151.50 L23.10,151.50 L23.50,151.50 L23.90,151.50 L24.30,151.50 L24.70,151.50 L25.10,151.50 L25.50,151.50 L25.90,151.50 L26.30,151.50 L26.70,151.50 L27.10,151.50 L27.50,151.50 L27.90,151.50 L28.30,151.50 L28.70,151.50 L29.10,151.50 L29.50,151.50 L29.90,151.50 L30.30,151.50 L30.70,151.50 L31.10,151.50 L31.50,151.50 L31.90,151.50 L32.30,151.50 L32.70,151.50 L33.10,151.50 L33.50,151.50 L33.90,151.50 L34.30,151.50 L34.70,151.50 L35.10,151.50 L35.50,151.50 L35.90,151.50 L36.30,151.50 L36.70,151.50 L37.10,151.49 L37.50,151.48 L37.90,151.47 L38.30,151.45 L38.70,151.43 L39.10,151.41 L39.50,151.38 L39.90,151.35 L40.30,151.32 L40.70,151.29 L41.10,151.25 L41.50,151.21 L41.90,151.12 L42.30,150.90 L42.70,150.54 L43.10,150.06 L43.50,149.48 L43.90,148.81 L44.30,148.07 L44.70,147.27 L45.10,146.42 L45.50,145.55 L45.90,144.66 L46.30,143.77 L46.70,142.79 L47.10,141.68 L47.50,140.45 L47.90,139.11 L48.30,137.67 L48.70,136.14 L49.10,134.51 L49.50,132.82 L49.90,131.05 L50.30,129.23 L50.70,127.35 L51.10,125.43 L51.50,123.48 L51.90,121.50 L52.30,119.47 L52.70,117.33 L53.10,115.08 L53.50,112.72 L53.90,110.25 L54.30,107.69 L54.70,105.03 L55.10,102.28 L55.50,99.44 L55.90,96.52 L56.30,93.52 L56.70,90.44 L57.10,87.30 L57.50,83.92 L57.90,80.03 L58.30,75.77 L58.70,71.35 L59.10,66.96 L59.50,62.78 L59.90,59.00 L60.30,55.81 L60.70,53.25 L61.10,50.73 L61.50,48.64 L61.90,47.55 L62.30,47.70 L62.70,48.50 L63.10,49.71 L63.50,51.13 L63.90,52.83 L64.30,55.26 L64.70,58.33 L65.10,61.89 L65.50,65.82 L65.90,69.98 L66.30,74.23 L66.70,78.45 L67.10,82.51 L67.50,86.82 L67.90,91.38 L68.30,95.99 L68.70,100.44 L69.10,104.75 L69.50,109.07 L69.90,112.76 L70.30,115.53 L70.70,118.05 L71.10,120.34 L71.50,122.43 L71.90,124.31 L72.30,125.99 L72.70,127.49 L73.10,128.82 L73.50,130.03 L73.90,131.17 L74.30,132.23 L74.70,133.21 L75.10,134.14 L75.50,135.01 L75.90,135.83 L76.30,136.60 L76.70,137.33 L77.10,138.03 L77.50,138.70 L77.90,139.35 L78.30,139.97 L78.70,140.57 L79.10,141.16 L79.50,141.72 L79.90,142.26 L80.30,142.78 L80.70,143.28 L81.10,143.76 L81.50,144.22 L81.90,144.67 L82.30,145.10 L82.70,145.52 L83.10,145.92 L83.50,146.30 L83.90,146.68 L84.30,147.08 L84.70,147.48 L85.10,147.89 L85.50,148.29 L85.90,148.69 L86.30,149.08 L86.70,149.46 L87.10,149.81 L87.50,150.15 L87.90,150.45 L88.30,150.73 L88.70,150.97 L89.10,151.17 L89.50,151.33 L89.90,151.44 L90.30,151.49 L90.70,151.50 L91.10,151.50 L91.50,151.50 L91.90,151.50 L92.30,151.50 L92.70,151.50 L93.10,151.50 L93.50,151.50 L93.90,151.50 L94.30,151.50 L94.70,151.50 L95.10,151.50 L95.50,151.50 L95.90,151.50 L96.30,151.50 L96.70,151.50 L97.10,151.50 L97.50,151.50 L97.90,151.50 L98.30,151.50 L98.70,151.50 L99.10,151.50 L99.50,151.50 L99.90,151.50 L100.30,151.50 L100.70,151.50 L101.10,151.50 L101.50,151.50 L101.90,151.50 L102.30,151.50 L102.70,151.50 L103.10,151.50 L103.50,151.50 L103.90,151.50 L104.30,151.50 L104.70,151.50 L105.10,151.50 L105.50,151.50 L105.90,151.50 L106.30,151.50 L106.70,151.50 L107.10,151.50 L107.50,151.50 L107.90,151.50 L108.30,151.50 L108.70,151.50 L109.10,151.50 L109.50,151.50 L109.90,151.50 L110.30,151.50 L110.70,151.50 L111.10,151.50 L111.50,151.50 L111.90,151.50 L112.30,151.50 L112.70,151.50 L113.10,151.50 L113.50,151.50 L113.90,151.50 L114.30,151.50 L114.70,151.50 L115.10,151.50 L115.50,151.50 L115.90,151.50 L116.30,151.50 L116.70,151.50 L117.10,151.50 L117.50,151.50 L117.90,151.50 L118.30,151.50 L118.70,151.50 L119.10,151.50 L119.50,151.50 L119.90,151.50 L120.30,151.50 L120.70,151.50 L121.10,151.50 L121.50,151.50 L121.90,151.50 L122.30,151.50 L122.70,151.50 L123.10,151.50 L123.50,151.50 L123.90,151.50 L124.30,151.50 L124.70,151.50 L125.10,151.50 L125.50,151.50 L125.90,151.50 L126.30,151.50 L126.70,151.50 L127.10,151.50 L127.50,151.50 L127.90,151.50 L128.30,151.50 L128.70,151.50 L129.10,151.50 L129.50,151.50 L129.90,151.50" fill="none" stroke="#34407a" stroke-width="1.2" stroke-linejoin="round"/>
<path d="M20.70,151.50 L21.10,151.50 L21.50,151.50 L21.90,151.50 L22.30,151.50 L22.70,151.50 L23.10,151.50 L23.50,151.50 L23.90,151.50 L24.30,151.50 L24.70,151.50 L25.10,151.50 L25.50,151.50 L25.90,151.50 L26.30,151.50 L26.70,151.50 L27.10,151.50 L27.50,151.50 L27.90,151.50 L28.30,151.50 L28.70,151.50 L29.10,151.50 L29.50,151.50 L29.90,151.50 L30.30,151.50 L30.70,151.50 L31.10,151.50 L31.50,151.50 L31.90,151.50 L32.30,151.50 L32.70,151.50 L33.10,151.50 L33.50,151.50 L33.90,151.50 L34.30,151.50 L34.70,151.50 L35.10,151.50 L35.50,151.50 L35.90,151.50 L36.30,151.50 L36.70,151.49 L37.10,151.49 L37.50,151.48 L37.90,151.46 L38.30,151.44 L38.70,151.42 L39.10,151.40 L39.50,151.37 L39.90,151.34 L40.30,151.31 L40.70,151.27 L41.10,151.23 L41.50,151.18 L41.90,151.03 L42.30,150.73 L42.70,150.31 L43.10,149.78 L43.50,149.16 L43.90,148.45 L44.30,147.68 L44.70,146.86 L45.10,146.00 L45.50,145.11 L45.90,144.22 L46.30,143.29 L46.70,142.24 L47.10,141.05 L47.50,139.75 L47.90,138.34 L48.30,136.83 L48.70,135.22 L49.10,133.53 L49.50,131.76 L49.90,129.92 L50.30,128.02 L50.70,126.07 L51.10,124.07 L51.50,122.03 L51.90,119.96 L52.30,117.82 L52.70,115.60 L53.10,113.28 L53.50,110.84 L53.90,108.28 L54.30,105.57 L54.70,102.71 L55.10,99.67 L55.50,96.45 L55.90,93.02 L56.30,89.38 L56.70,85.48 L57.10,80.66 L57.50,75.00 L57.90,68.92 L58.30,62.83 L58.70,56.97 L59.10,50.01 L59.50,47.53 L59.90,48.23 L60.30,49.55 L60.70,51.12 L61.10,52.75 L61.50,54.73 L61.90,57.03 L62.30,59.60 L62.70,62.40 L63.10,65.37 L63.50,68.48 L63.90,71.67 L64.30,74.89 L64.70,78.19 L65.10,81.95 L65.50,86.00 L65.90,90.09 L66.30,93.93 L66.70,97.29 L67.10,100.36 L67.50,103.26 L67.90,106.00 L68.30,108.56 L68.70,110.94 L69.10,113.17 L69.50,115.35 L69.90,117.47 L70.30,119.51 L70.70,121.45 L71.10,123.28 L71.50,124.97 L71.90,126.52 L72.30,127.88 L72.70,129.08 L73.10,130.19 L73.50,131.22 L73.90,132.20 L74.30,133.11 L74.70,133.98 L75.10,134.79 L75.50,135.57 L75.90,136.31 L76.30,137.02 L76.70,137.71 L77.10,138.37 L77.50,139.02 L77.90,139.66 L78.30,140.28 L78.70,140.88 L79.10,141.47 L79.50,142.04 L79.90,142.58 L80.30,143.12 L80.70,143.63 L81.10,144.12 L81.50,144.60 L81.90,145.05 L82.30,145.49 L82.70,145.90 L83.10,146.30 L83.50,146.69 L83.90,147.10 L84.30,147.51 L84.70,147.92 L85.10,148.33 L85.50,148.73 L85.90,149.13 L86.30,149.51 L86.70,149.86 L87.10,150.20 L87.50,150.50 L87.90,150.78 L88.30,151.01 L88.70,151.21 L89.10,151.36 L89.50,151.45 L89.90,151.50 L90.30,151.50 L90.70,151.50 L91.10,151.50 L91.50,151.50 L91.90,151.50 L92.30,151.50 L92.70,151.50 L93.10,151.50 L93.50,151.50 L93.90,151.50 L94.30,151.50 L94.70,151.50 L95.10,151.50 L95.50,151.50 L95.90,151.50 L96.30,151.50 L96.70,151.50 L97.10,151.50 L97.50,151.50 L97.90,151.50 L98.30,151.50 L98.70,151.50 L99.10,151.50 L99.50,151.50 L99.90,151.50 L100.30,151.50 L100.70,151.50 L101.10,151.50 L101.50,151.50 L101.90,151.50 L102.30,151.50 L102.70,151.50 L103.10,151.50 L103.50,151.50 L103.90,151.50 L104.30,151.50 L104.70,151.50 L105.10,151.50 L105.50,151.50 L105.90,151.50 L106.30,151.50 L106.70,151.50 L107.10,151.50 L107.50,151.50 L107.90,151.50 L108.30,151.50 L108.70,151.50 L109.10,151.50 L109.50,151.50 L109.90,151.50 L110.30,151.50 L110.70,151.50 L111.10,151.50 L111.50,151.50 L111.90,151.50 L112.30,151.50 L112.70,151.50 L113.10,151.50 L113.50,151.50 L113.90,151.50 L114.30,151.50 L114.70,151.50 L115.10,151.50 L115.50,151.50 L115.90,151.50 L116.30,151.50 L116.70,151.50 L117.10,151.50 L117.50,151.50 L117.90,151.50 L118.30,151.50 L118.70,151.50 L119.10,151.50 L119.50,151.50 L119.90,151.50 L120.30,151.50 L120.70,151.50 L121.10,151.50 L121.50,151.50 L121.90,151.50 L122.30,151.50 L122.70,151.50 L123.10,151.50 L123.50,151.50 L123.90,151.50 L124.30,151.50 L124.70,151.50 L125.10,151.50 L125.50,151.50 L125.90,151.50 L126.30,151.50 L126.70,151.50 L127.10,151.50 L127.50,151.50 L127.90,151.50 L128.30,151.50 L128.70,151.50 L129.10,151.50 L129.50,151.50 L129.90,151.50" fill="none" stroke="#3a9c78" stroke-width="1.2" stroke-linejoin="round"/>
<path d="M20.70,151.50 L21.10,151.50 L21.50,151.50 L21.90,151.50 L22.30,151.50 L22.70,151.50 L23.10,151.50 L23.50,151.50 L23.90,151.50 L24.30,151.50 L24.70,151.50 L25.10,151.50 L25.50,151.50 L25.90,151.50 L26.30,151.50 L26.70,151.50 L27.10,151.50 L27.50,151.50 L27.90,151.50 L28.30,151.50 L28.70,151.50 L29.10,151.50 L29.50,151.50 L29.90,151.50 L30.30,151.50 L30.70,151.50 L31.10,151.50 L31.50,151.50 L31.90,151.50 L32.30,151.50 L32.70,151.50 L33.10,151.50 L33.50,151.50 L33.90,151.50 L34.30,151.50 L34.70,151.50 L35.10,151.50 L35.50,151.50 L35.90,151.50 L36.30,151.50 L36.70,151.50 L37.10,151.49 L37.50,151.48 L37.90,151.47 L38.30,151.45 L38.70,151.43 L39.10,151.41 L39.50,151.38 L39.90,151.35 L40.30,151.32 L40.70,151.29 L41.10,151.25 L41.50,151.21 L41.90,151.12 L42.30,150.90 L42.70,150.54 L43.10,150.06 L43.50,149.48 L43.90,148.81 L44.30,148.07 L44.70,147.27 L45.10,146.42 L45.50,145.55 L45.90,144.66 L46.30,143.77 L46.70,142.79 L47.10,141.68 L47.50,140.45 L47.90,139.11 L48.30,137.67 L48.70,136.14 L49.10,134.51 L49.50,132.82 L49.90,131.05 L50.30,129.23 L50.70,127.35 L51.10,125.43 L51.50,123.48 L51.90,121.50 L52.30,119.47 L52.70,117.30 L53.10,115.02 L53.50,112.62 L53.90,110.11 L54.30,107.50 L54.70,104.81 L55.10,102.04 L55.50,99.19 L55.90,96.28 L56.30,93.32 L56.70,90.31 L57.10,87.27 L57.50,84.07 L57.90,80.50 L58.30,76.67 L58.70,72.69 L59.10,68.70 L59.50,64.82 L59.90,61.18 L60.30,57.90 L60.70,55.11 L61.10,52.65 L61.50,50.18 L61.90,48.27 L62.30,47.50 L62.70,47.96 L63.10,49.13 L63.50,50.68 L63.90,52.41 L64.30,54.76 L64.70,57.73 L65.10,61.22 L65.50,65.11 L65.90,69.30 L66.30,73.69 L66.70,78.16 L67.10,82.65 L67.50,87.86 L67.90,93.55 L68.30,99.04 L68.70,103.87 L69.10,108.79 L69.50,113.78 L69.90,118.59 L70.30,123.00 L70.70,126.77 L71.10,129.68 L71.50,131.50 L71.90,132.61 L72.30,133.56 L72.70,134.37 L73.10,135.07 L73.50,135.67 L73.90,136.21 L74.30,136.70 L74.70,137.16 L75.10,137.61 L75.50,138.06 L75.90,138.50 L76.30,138.91 L76.70,139.30 L77.10,139.65 L77.50,139.96 L77.90,140.22 L78.30,140.42 L78.70,140.57 L79.10,140.71 L79.50,140.84 L79.90,140.96 L80.30,141.08 L80.70,141.19 L81.10,141.29 L81.50,141.39 L81.90,141.47 L82.30,141.54 L82.70,141.60 L83.10,141.64 L83.50,141.68 L83.90,141.70 L84.30,141.70 L84.70,141.68 L85.10,141.63 L85.50,141.57 L85.90,141.48 L86.30,141.38 L86.70,141.26 L87.10,141.13 L87.50,140.98 L87.90,140.83 L88.30,140.67 L88.70,140.51 L89.10,140.35 L89.50,140.19 L89.90,140.04 L90.30,139.87 L90.70,139.68 L91.10,139.45 L91.50,139.21 L91.90,138.95 L92.30,138.69 L92.70,138.44 L93.10,138.20 L93.50,137.99 L93.90,137.81 L94.30,137.67 L94.70,137.58 L95.10,137.51 L95.50,137.43 L95.90,137.37 L96.30,137.30 L96.70,137.24 L97.10,137.19 L97.50,137.14 L97.90,137.10 L98.30,137.06 L98.70,137.03 L99.10,137.01 L99.50,137.00 L99.90,137.00 L100.30,137.03 L100.70,137.11 L101.10,137.22 L101.50,137.36 L101.90,137.54 L102.30,137.75 L102.70,137.97 L103.10,138.22 L103.50,138.49 L103.90,138.78 L104.30,139.29 L104.70,140.04 L105.10,140.95 L105.50,141.95 L105.90,142.98 L106.30,143.96 L106.70,144.81 L107.10,145.47 L107.50,145.89 L107.90,146.25 L108.30,146.57 L108.70,146.87 L109.10,147.14 L109.50,147.39 L109.90,147.62 L110.30,147.84 L110.70,148.05 L111.10,148.25 L111.50,148.44 L111.90,148.64 L112.30,148.84 L112.70,149.04 L113.10,149.26 L113.50,149.49 L113.90,149.74 L114.30,150.00 L114.70,150.26 L115.10,150.52 L115.50,150.76 L115.90,150.98 L116.30,151.17 L116.70,151.32 L117.10,151.43 L117.50,151.49 L117.90,151.50 L118.30,151.50 L118.70,151.50 L119.10,151.50 L119.50,151.50 L119.90,151.50 L120.30,151.50 L120.70,151.50 L121.10,151.50 L121.50,151.50 L121.90,151.50 L122.30,151.50 L122.70,151.50 L123.10,151.50 L123.50,151.50 L123.90,151.50 L124.30,151.50 L124.70,151.50 L125.10,151.50 L125.50,151.50 L125.90,151.50 L126.30,151.50 L126.70,151.50 L127.10,151.50 L127.50,151.50 L127.90,151.50 L128.30,151.50 L128.70,151.50 L129.10,151.50 L129.50,151.50 L129.90,151.50" fill="none" stroke="#c24456" stroke-width="1.3" stroke-linejoin="round"/>
<path d="M20.70,151.50 L21.10,151.50 L21.50,151.50 L21.90,151.50 L22.30,151.50 L22.70,151.50 L23.10,151.50 L23.50,151.50 L23.90,151.50 L24.30,151.50 L24.70,151.50 L25.10,151.50 L25.50,151.50 L25.90,151.50 L26.30,151.50 L26.70,151.50 L27.10,151.50 L27.50,151.50 L27.90,151.50 L28.30,151.50 L28.70,151.50 L29.10,151.50 L29.50,151.50 L29.90,151.50 L30.30,151.50 L30.70,151.50 L31.10,151.50 L31.50,151.50 L31.90,151.50 L32.30,151.50 L32.70,151.50 L33.10,151.50 L33.50,151.50 L33.90,151.50 L34.30,151.50 L34.70,151.50 L35.10,151.50 L35.50,151.50 L35.90,151.50 L36.30,151.50 L36.70,151.50 L37.10,151.50 L37.50,151.50 L37.90,151.50 L38.30,151.50 L38.70,151.50 L39.10,151.50 L39.50,151.50 L39.90,151.50 L40.30,151.50 L40.70,151.50 L41.10,151.50 L41.50,151.50 L41.90,151.50 L42.30,151.50 L42.70,151.50 L43.10,151.50 L43.50,151.50 L43.90,151.50 L44.30,151.50 L44.70,151.50 L45.10,151.50 L45.50,151.50 L45.90,151.50 L46.30,151.50 L46.70,151.50 L47.10,151.50 L47.50,151.50 L47.90,151.50 L48.30,151.50 L48.70,151.50 L49.10,151.50 L49.50,151.50 L49.90,151.50 L50.30,151.50 L50.70,151.50 L51.10,151.50 L51.50,151.50 L51.90,151.50 L52.30,151.50 L52.70,151.50 L53.10,151.50 L53.50,151.50 L53.90,151.50 L54.30,151.50 L54.70,151.50 L55.10,151.50 L55.50,151.50 L55.90,151.50 L56.30,151.50 L56.70,151.50 L57.10,151.50 L57.50,151.50 L57.90,151.50 L58.30,151.50 L58.70,151.50 L59.10,151.50 L59.50,151.50 L59.90,151.50 L60.30,151.50 L60.70,151.50 L61.10,151.50 L61.50,151.50 L61.90,151.50 L62.30,151.50 L62.70,151.50 L63.10,151.50 L63.50,151.50 L63.90,151.50 L64.30,151.50 L64.70,151.50 L65.10,151.50 L65.50,151.50 L65.90,151.50 L66.30,151.50 L66.70,151.50 L67.10,151.50 L67.50,151.50 L67.90,151.50 L68.30,151.50 L68.70,151.50 L69.10,151.50 L69.50,151.50 L69.90,151.50 L70.30,151.50 L70.70,151.50 L71.10,151.50 L71.50,151.50 L71.90,151.50 L72.30,151.50 L72.70,151.50 L73.10,151.50 L73.50,151.50 L73.90,151.50 L74.30,151.50 L74.70,151.50 L75.10,151.50 L75.50,151.50 L75.90,151.50 L76.30,151.50 L76.70,151.50 L77.10,151.50 L77.50,151.50 L77.90,151.50 L78.30,151.50 L78.70,151.50 L79.10,151.50 L79.50,151.50 L79.90,151.50 L80.30,151.50 L80.70,151.50 L81.10,151.50 L81.50,151.50 L81.90,151.49 L82.30,151.49 L82.70,151.49 L83.10,151.49 L83.50,151.48 L83.90,151.47 L84.30,151.46 L84.70,151.45 L85.10,151.44 L85.50,151.42 L85.90,151.39 L86.30,151.35 L86.70,151.31 L87.10,151.25 L87.50,151.18 L87.90,151.09 L88.30,150.98 L88.70,150.83 L89.10,150.66 L89.50,150.44 L89.90,150.17 L90.30,149.85 L90.70,149.45 L91.10,148.97 L91.50,148.40 L91.90,147.72 L92.30,146.91 L92.70,145.97 L93.10,144.86 L93.50,143.57 L93.90,142.09 L94.30,140.38 L94.70,138.45 L95.10,136.25 L95.50,133.79 L95.90,131.05 L96.30,128.02 L96.70,124.69 L97.10,121.06 L97.50,117.14 L97.90,112.93 L98.30,108.47 L98.70,103.78 L99.10,98.90 L99.50,93.86 L99.90,88.72 L100.30,83.56 L100.70,78.43 L101.10,73.41 L101.50,68.59 L101.90,64.05 L102.30,59.89 L102.70,56.20 L103.10,53.07 L103.50,50.60 L103.90,48.88 L104.30,48.05 L104.70,48.61 L105.10,50.90 L105.50,54.56 L105.90,59.36 L106.30,65.05 L106.70,71.41 L107.10,78.19 L107.50,85.20 L107.90,92.23 L108.30,99.12 L108.70,105.73 L109.10,111.94 L109.50,117.69 L109.90,122.91 L110.30,127.58 L110.70,131.70 L111.10,135.28 L111.50,138.35 L111.90,140.95 L112.30,143.12 L112.70,144.91 L113.10,146.37 L113.50,147.55 L113.90,148.48 L114.30,149.22 L114.70,149.80 L115.10,150.24 L115.50,150.57 L115.90,150.83 L116.30,151.02 L116.70,151.15 L117.10,151.26 L117.50,151.33 L117.90,151.38 L118.30,151.42 L118.70,151.44 L119.10,151.46 L119.50,151.48 L119.90,151.48 L120.30,151.49 L120.70,151.49 L121.10,151.50 L121.50,151.50 L121.90,151.50 L122.30,151.50 L122.70,151.50 L123.10,151.50 L123.50,151.50 L123.90,151.50 L124.30,151.50 L124.70,151.50 L125.10,151.50 L125.50,151.50 L125.90,151.50 L126.30,151.50 L126.70,151.50 L127.10,151.50 L127.50,151.50 L127.90,151.50 L128.30,151.50 L128.70,151.50 L129.10,151.50 L129.50,151.50 L129.90,151.50" fill="none" stroke="#1a1a1a" stroke-width="1.45" stroke-linejoin="round"/>
<line x1="20.20" y1="41.70" x2="20.20" y2="152.30" stroke="#555" stroke-width="1.1"/>
<line x1="18.80" y1="146.30" x2="20.20" y2="146.30" stroke="#555" stroke-width="0.8"/>
<line x1="18.80" y1="141.10" x2="20.20" y2="141.10" stroke="#555" stroke-width="0.8"/>
<line x1="18.80" y1="135.90" x2="20.20" y2="135.90" stroke="#555" stroke-width="0.8"/>
<line x1="17.80" y1="130.70" x2="20.20" y2="130.70" stroke="#555" stroke-width="0.8"/>
<line x1="18.80" y1="125.50" x2="20.20" y2="125.50" stroke="#555" stroke-width="0.8"/>
<line x1="18.80" y1="120.30" x2="20.20" y2="120.30" stroke="#555" stroke-width="0.8"/>
<line x1="18.80" y1="115.10" x2="20.20" y2="115.10" stroke="#555" stroke-width="0.8"/>
<line x1="17.80" y1="109.90" x2="20.20" y2="109.90" stroke="#555" stroke-width="0.8"/>
<line x1="18.80" y1="104.70" x2="20.20" y2="104.70" stroke="#555" stroke-width="0.8"/>
<line x1="18.80" y1="99.50" x2="20.20" y2="99.50" stroke="#555" stroke-width="0.8"/>
<line x1="18.80" y1="94.30" x2="20.20" y2="94.30" stroke="#555" stroke-width="0.8"/>
<line x1="17.80" y1="89.10" x2="20.20" y2="89.10" stroke="#555" stroke-width="0.8"/>
<line x1="18.80" y1="83.90" x2="20.20" y2="83.90" stroke="#555" stroke-width="0.8"/>
<line x1="18.80" y1="78.70" x2="20.20" y2="78.70" stroke="#555" stroke-width="0.8"/>
<line x1="18.80" y1="73.50" x2="20.20" y2="73.50" stroke="#555" stroke-width="0.8"/>
<line x1="17.80" y1="68.30" x2="20.20" y2="68.30" stroke="#555" stroke-width="0.8"/>
<line x1="18.80" y1="63.10" x2="20.20" y2="63.10" stroke="#555" stroke-width="0.8"/>
<line x1="18.80" y1="57.90" x2="20.20" y2="57.90" stroke="#555" stroke-width="0.8"/>
<line x1="18.80" y1="52.70" x2="20.20" y2="52.70" stroke="#555" stroke-width="0.8"/>
<line x1="17.80" y1="47.50" x2="20.20" y2="47.50" stroke="#555" stroke-width="0.8"/>
<line x1="22.20" y1="151.50" x2="22.20" y2="154.10" stroke="#444" stroke-width="0.8"/>
<line x1="30.16" y1="151.50" x2="30.16" y2="153.10" stroke="#444" stroke-width="0.8"/>
<line x1="34.82" y1="151.50" x2="34.82" y2="153.10" stroke="#444" stroke-width="0.8"/>
<line x1="38.12" y1="151.50" x2="38.12" y2="153.10" stroke="#444" stroke-width="0.8"/>
<line x1="40.69" y1="151.50" x2="40.69" y2="153.10" stroke="#444" stroke-width="0.8"/>
<line x1="42.78" y1="151.50" x2="42.78" y2="153.10" stroke="#444" stroke-width="0.8"/>
<line x1="44.55" y1="151.50" x2="44.55" y2="153.10" stroke="#444" stroke-width="0.8"/>
<line x1="46.09" y1="151.50" x2="46.09" y2="153.10" stroke="#444" stroke-width="0.8"/>
<line x1="47.44" y1="151.50" x2="47.44" y2="153.10" stroke="#444" stroke-width="0.8"/>
<line x1="48.65" y1="151.50" x2="48.65" y2="154.10" stroke="#444" stroke-width="0.8"/>
<line x1="56.61" y1="151.50" x2="56.61" y2="153.10" stroke="#444" stroke-width="0.8"/>
<line x1="61.27" y1="151.50" x2="61.27" y2="153.10" stroke="#444" stroke-width="0.8"/>
<line x1="64.57" y1="151.50" x2="64.57" y2="153.10" stroke="#444" stroke-width="0.8"/>
<line x1="67.14" y1="151.50" x2="67.14" y2="153.10" stroke="#444" stroke-width="0.8"/>
<line x1="69.23" y1="151.50" x2="69.23" y2="153.10" stroke="#444" stroke-width="0.8"/>
<line x1="71.00" y1="151.50" x2="71.00" y2="153.10" stroke="#444" stroke-width="0.8"/>
<line x1="72.54" y1="151.50" x2="72.54" y2="153.10" stroke="#444" stroke-width="0.8"/>
<line x1="73.89" y1="151.50" x2="73.89" y2="153.10" stroke="#444" stroke-width="0.8"/>
<line x1="75.10" y1="151.50" x2="75.10" y2="154.10" stroke="#444" stroke-width="0.8"/>
<line x1="83.06" y1="151.50" x2="83.06" y2="153.10" stroke="#444" stroke-width="0.8"/>
<line x1="87.72" y1="151.50" x2="87.72" y2="153.10" stroke="#444" stroke-width="0.8"/>
<line x1="91.02" y1="151.50" x2="91.02" y2="153.10" stroke="#444" stroke-width="0.8"/>
<line x1="93.59" y1="151.50" x2="93.59" y2="153.10" stroke="#444" stroke-width="0.8"/>
<line x1="95.68" y1="151.50" x2="95.68" y2="153.10" stroke="#444" stroke-width="0.8"/>
<line x1="97.45" y1="151.50" x2="97.45" y2="153.10" stroke="#444" stroke-width="0.8"/>
<line x1="98.99" y1="151.50" x2="98.99" y2="153.10" stroke="#444" stroke-width="0.8"/>
<line x1="100.34" y1="151.50" x2="100.34" y2="153.10" stroke="#444" stroke-width="0.8"/>
<line x1="101.55" y1="151.50" x2="101.55" y2="154.10" stroke="#444" stroke-width="0.8"/>
<line x1="109.51" y1="151.50" x2="109.51" y2="153.10" stroke="#444" stroke-width="0.8"/>
<line x1="114.17" y1="151.50" x2="114.17" y2="153.10" stroke="#444" stroke-width="0.8"/>
<line x1="117.47" y1="151.50" x2="117.47" y2="153.10" stroke="#444" stroke-width="0.8"/>
<line x1="120.04" y1="151.50" x2="120.04" y2="153.10" stroke="#444" stroke-width="0.8"/>
<line x1="122.13" y1="151.50" x2="122.13" y2="153.10" stroke="#444" stroke-width="0.8"/>
<line x1="123.90" y1="151.50" x2="123.90" y2="153.10" stroke="#444" stroke-width="0.8"/>
<line x1="125.44" y1="151.50" x2="125.44" y2="153.10" stroke="#444" stroke-width="0.8"/>
<line x1="126.79" y1="151.50" x2="126.79" y2="153.10" stroke="#444" stroke-width="0.8"/>
<line x1="20.20" y1="151.50" x2="130.00" y2="151.50" stroke="#444" stroke-width="1.1" />
<line x1="20.70" y1="151.20" x2="130.00" y2="151.20" stroke="#c24456" stroke-width="1.0" />
<path d="M147.40,151.70 L147.80,151.70 L148.20,151.70 L148.60,151.70 L149.00,151.69 L149.40,151.69 L149.80,151.69 L150.20,151.68 L150.60,151.68 L151.00,151.67 L151.40,151.66 L151.80,151.64 L152.20,151.62 L152.60,151.59 L153.00,151.55 L153.40,151.50 L153.80,151.43 L154.20,151.34 L154.60,151.23 L155.00,151.09 L155.40,150.91 L155.80,150.68 L156.20,150.40 L156.60,150.05 L157.00,149.62 L157.40,149.09 L157.80,148.46 L158.20,147.69 L158.60,146.78 L159.00,145.71 L159.40,144.44 L159.80,142.97 L160.20,141.26 L160.60,139.31 L161.00,137.08 L161.40,134.58 L161.80,131.77 L162.20,128.67 L162.60,125.25 L163.00,121.53 L163.40,117.52 L163.80,113.22 L164.20,108.68 L164.60,103.92 L165.00,98.98 L165.40,93.93 L165.80,88.80 L166.20,83.68 L166.60,78.63 L167.00,73.72 L167.40,69.04 L167.80,64.66 L168.20,60.66 L168.60,57.10 L169.00,54.06 L169.40,51.59 L169.80,49.73 L170.20,48.54 L170.60,48.02 L171.00,48.26 L171.40,49.40 L171.80,51.42 L172.20,54.26 L172.60,57.86 L173.00,62.13 L173.40,66.95 L173.80,72.22 L174.20,77.82 L174.60,83.63 L175.00,89.54 L175.40,95.44 L175.80,101.22 L176.20,106.81 L176.60,112.14 L177.00,117.14 L177.40,121.77 L177.80,126.01 L178.20,129.85 L178.60,133.27 L179.00,136.30 L179.40,138.94 L179.80,141.22 L180.20,143.17 L180.60,144.82 L181.00,146.20 L181.40,147.34 L181.80,148.28 L182.20,149.03 L182.60,149.64 L183.00,150.13 L183.40,150.51 L183.80,150.80 L184.20,151.03 L184.60,151.21 L185.00,151.34 L185.40,151.44 L185.80,151.51 L186.20,151.57 L186.60,151.61 L187.00,151.63 L187.40,151.65 L187.80,151.67 L188.20,151.68 L188.60,151.69 L189.00,151.69 L189.40,151.69 L189.80,151.70 L190.20,151.70 L190.60,151.70 L191.00,151.70 L191.40,151.70 L191.80,151.70 L192.20,151.70 L192.60,151.70 L193.00,151.70 L193.40,151.70 L193.80,151.70 L194.20,151.70 L194.60,151.70 L195.00,151.70 L195.40,151.70 L195.80,151.70 L196.20,151.70 L196.60,151.70 L197.00,151.70 L197.40,151.70 L197.80,151.70 L198.20,151.70 L198.60,151.70 L199.00,151.70 L199.40,151.70 L199.80,151.70 L200.20,151.70 L200.60,151.70 L201.00,151.70 L201.40,151.70 L201.80,151.70 L202.20,151.70 L202.60,151.70 L203.00,151.70 L203.40,151.70 L203.80,151.70 L204.20,151.70 L204.60,151.70 L205.00,151.70 L205.40,151.70 L205.80,151.70 L206.20,151.70 L206.60,151.70 L207.00,151.70 L207.40,151.70 L207.80,151.70 L208.20,151.70 L208.60,151.70 L209.00,151.70 L209.40,151.70 L209.80,151.70 L210.20,151.70 L210.60,151.70 L211.00,151.70 L211.40,151.70 L211.80,151.70 L212.20,151.70 L212.60,151.70 L213.00,151.70 L213.40,151.70 L213.80,151.70 L214.20,151.70 L214.60,151.70 L215.00,151.70 L215.40,151.70 L215.80,151.70 L216.20,151.70 L216.60,151.70 L217.00,151.70 L217.40,151.70 L217.80,151.70 L218.20,151.70 L218.60,151.70 L219.00,151.70 L219.40,151.70 L219.80,151.70 L220.20,151.70 L220.60,151.70 L221.00,151.70 L221.40,151.70 L221.80,151.70 L222.20,151.70 L222.60,151.70 L223.00,151.70 L223.40,151.70 L223.80,151.70 L224.20,151.70 L224.60,151.70 L225.00,151.70 L225.40,151.70 L225.80,151.70 L226.20,151.70 L226.60,151.70 L227.00,151.70 L227.40,151.70 L227.80,151.70 L228.20,151.70 L228.60,151.70 L229.00,151.70 L229.40,151.70 L229.80,151.70 L230.20,151.70 L230.60,151.70 L231.00,151.70 L231.40,151.70 L231.80,151.70 L232.20,151.70 L232.60,151.70 L233.00,151.70 L233.40,151.70 L233.80,151.70 L234.20,151.70 L234.60,151.70 L235.00,151.70 L235.40,151.70 L235.80,151.70 L236.20,151.70 L236.60,151.70 L237.00,151.70 L237.40,151.70 L237.80,151.70 L238.20,151.70 L238.60,151.70 L239.00,151.70 L239.40,151.70 L239.80,151.70 L240.20,151.70 L240.60,151.70 L241.00,151.70 L241.40,151.70 L241.80,151.70 L242.20,151.70 L242.60,151.70 L243.00,151.70 L243.40,151.70 L243.80,151.70 L244.20,151.70 L244.60,151.70 L245.00,151.70 L245.40,151.70 L245.80,151.70 L246.20,151.70 L246.60,151.70 L247.00,151.70 L247.40,151.70 L247.80,151.70 L248.20,151.70 L248.60,151.70 L249.00,151.70 L249.40,151.70 L249.80,151.70 L250.20,151.70 L250.60,151.70 L251.00,151.70 L251.40,151.70 L251.80,151.70 L252.20,151.70 L252.60,151.70 L253.00,151.70 L253.40,151.70 L253.80,151.70 L254.20,151.70 L254.60,151.70 L255.00,151.70 L255.40,151.70 L255.80,151.70 L256.20,151.70 L256.60,151.70 L257.00,151.70 L257.40,151.70 L257.80,151.70 L258.00,151.70 L147.40,151.70 Z" fill="#e7e7e7" stroke="none"/>
<path d="M147.90,151.70 L148.30,151.70 L148.70,151.70 L149.10,151.69 L149.50,151.69 L149.90,151.69 L150.30,151.68 L150.70,151.67 L151.10,151.67 L151.50,151.65 L151.90,151.63 L152.30,151.61 L152.70,151.58 L153.10,151.54 L153.50,151.48 L153.90,151.41 L154.30,151.32 L154.70,151.20 L155.10,151.05 L155.50,150.86 L155.90,150.62 L156.30,150.32 L156.70,149.95 L157.10,149.50 L157.50,148.95 L157.90,148.28 L158.30,147.48 L158.70,146.53 L159.10,145.41 L159.50,144.09 L159.90,142.56 L160.30,140.80 L160.70,138.78 L161.10,136.48 L161.50,133.91 L161.90,131.03 L162.30,127.84 L162.70,124.35 L163.10,120.55 L163.50,116.47 L163.90,112.11 L164.30,107.51 L164.70,102.70 L165.10,97.73 L165.50,92.65 L165.90,87.52 L166.30,82.41 L166.70,77.39 L167.10,72.53 L167.50,67.91 L167.90,63.62 L168.30,59.72 L168.70,56.29 L169.10,53.38 L169.50,51.06 L169.90,49.37 L170.30,48.34 L170.70,48.00 L171.10,48.46 L171.50,49.82 L171.90,52.05 L172.30,55.09 L172.70,58.87 L173.10,63.28 L173.50,68.23 L173.90,73.60 L174.30,79.26 L174.70,85.11 L175.10,91.02 L175.50,96.90 L175.90,102.64 L176.30,108.17 L176.70,113.42 L177.10,118.33 L177.50,122.87 L177.90,127.01 L178.30,130.74 L178.70,134.07 L179.10,136.99 L179.50,139.54 L179.90,141.74 L180.30,143.61 L180.70,145.19 L181.10,146.51 L181.50,147.59 L181.90,148.48 L182.30,149.20 L182.70,149.77 L183.10,150.23 L183.50,150.59 L183.90,150.87 L184.30,151.08 L184.70,151.24 L185.10,151.37 L185.50,151.46 L185.90,151.53 L186.30,151.58 L186.70,151.61 L187.10,151.64 L187.50,151.66 L187.90,151.67 L188.30,151.68 L188.70,151.69 L189.10,151.69 L189.50,151.69 L189.90,151.70 L190.30,151.70 L190.70,151.70 L191.10,151.70 L191.50,151.70 L191.90,151.70 L192.30,151.70 L192.70,151.70 L193.10,151.70 L193.50,151.70 L193.90,151.70 L194.30,151.70 L194.70,151.70 L195.10,151.70 L195.50,151.70 L195.90,151.70 L196.30,151.70 L196.70,151.70 L197.10,151.70 L197.50,151.70 L197.90,151.70 L198.30,151.70 L198.70,151.70 L199.10,151.70 L199.50,151.70 L199.90,151.70 L200.30,151.70 L200.70,151.70 L201.10,151.70 L201.50,151.70 L201.90,151.70 L202.30,151.70 L202.70,151.70 L203.10,151.70 L203.50,151.70 L203.90,151.70 L204.30,151.70 L204.70,151.70 L205.10,151.70 L205.50,151.70 L205.90,151.70 L206.30,151.70 L206.70,151.70 L207.10,151.70 L207.50,151.70 L207.90,151.70 L208.30,151.70 L208.70,151.70 L209.10,151.70 L209.50,151.70 L209.90,151.70 L210.30,151.70 L210.70,151.70 L211.10,151.70 L211.50,151.70 L211.90,151.70 L212.30,151.70 L212.70,151.70 L213.10,151.70 L213.50,151.70 L213.90,151.70 L214.30,151.70 L214.70,151.70 L215.10,151.70 L215.50,151.70 L215.90,151.70 L216.30,151.70 L216.70,151.70 L217.10,151.70 L217.50,151.70 L217.90,151.70 L218.30,151.70 L218.70,151.70 L219.10,151.70 L219.50,151.70 L219.90,151.70 L220.30,151.70 L220.70,151.70 L221.10,151.70 L221.50,151.70 L221.90,151.70 L222.30,151.70 L222.70,151.70 L223.10,151.70 L223.50,151.70 L223.90,151.70 L224.30,151.70 L224.70,151.70 L225.10,151.70 L225.50,151.70 L225.90,151.70 L226.30,151.70 L226.70,151.70 L227.10,151.70 L227.50,151.70 L227.90,151.70 L228.30,151.70 L228.70,151.70 L229.10,151.70 L229.50,151.70 L229.90,151.70 L230.30,151.70 L230.70,151.70 L231.10,151.70 L231.50,151.70 L231.90,151.70 L232.30,151.70 L232.70,151.70 L233.10,151.70 L233.50,151.70 L233.90,151.70 L234.30,151.70 L234.70,151.70 L235.10,151.70 L235.50,151.70 L235.90,151.70 L236.30,151.70 L236.70,151.70 L237.10,151.70 L237.50,151.70 L237.90,151.70 L238.30,151.70 L238.70,151.70 L239.10,151.70 L239.50,151.70 L239.90,151.70 L240.30,151.70 L240.70,151.70 L241.10,151.70 L241.50,151.70 L241.90,151.70 L242.30,151.70 L242.70,151.70 L243.10,151.70 L243.50,151.70 L243.90,151.70 L244.30,151.70 L244.70,151.70 L245.10,151.70 L245.50,151.70 L245.90,151.70 L246.30,151.70 L246.70,151.70 L247.10,151.70 L247.50,151.70 L247.90,151.70 L248.30,151.70 L248.70,151.70 L249.10,151.70 L249.50,151.70 L249.90,151.70 L250.30,151.70 L250.70,151.70 L251.10,151.70 L251.50,151.70 L251.90,151.70 L252.30,151.70 L252.70,151.70 L253.10,151.70 L253.50,151.70 L253.90,151.70 L254.30,151.70 L254.70,151.70 L255.10,151.70 L255.50,151.70 L255.90,151.70 L256.30,151.70 L256.70,151.70 L257.10,151.70 L257.50,151.70 L257.90,151.70" fill="none" stroke="#6a6a6a" stroke-width="1.3" stroke-linejoin="round"/>
<path d="M147.90,151.70 L148.30,151.70 L148.70,151.70 L149.10,151.69 L149.50,151.69 L149.90,151.69 L150.30,151.68 L150.70,151.67 L151.10,151.67 L151.50,151.65 L151.90,151.63 L152.30,151.61 L152.70,151.58 L153.10,151.54 L153.50,151.48 L153.90,151.41 L154.30,151.32 L154.70,151.20 L155.10,151.05 L155.50,150.86 L155.90,150.62 L156.30,150.32 L156.70,149.95 L157.10,149.50 L157.50,148.95 L157.90,148.28 L158.30,147.48 L158.70,146.53 L159.10,145.41 L159.50,144.09 L159.90,142.56 L160.30,140.79 L160.70,138.77 L161.10,136.48 L161.50,133.90 L161.90,131.02 L162.30,127.84 L162.70,124.35 L163.10,120.55 L163.50,116.46 L163.90,112.10 L164.30,107.50 L164.70,102.69 L165.10,97.72 L165.50,92.63 L165.90,87.50 L166.30,82.38 L166.70,77.36 L167.10,72.50 L167.50,67.88 L167.90,63.58 L168.30,59.67 L168.70,56.23 L169.10,53.31 L169.50,50.98 L169.90,49.28 L170.30,48.24 L170.70,47.87 L171.10,48.31 L171.50,49.65 L171.90,51.86 L172.30,54.87 L172.70,58.62 L173.10,63.00 L173.50,67.90 L173.90,73.23 L174.30,78.84 L174.70,84.63 L175.10,90.49 L175.50,96.30 L175.90,101.97 L176.30,107.42 L176.70,112.58 L177.10,117.39 L177.50,121.82 L177.90,125.85 L178.30,129.46 L178.70,132.65 L179.10,135.43 L179.50,137.83 L179.90,139.85 L180.30,141.55 L180.70,142.93 L181.10,144.05 L181.50,144.92 L181.90,145.58 L182.30,146.05 L182.70,146.37 L183.10,146.56 L183.50,146.64 L183.90,146.63 L184.30,146.55 L184.70,146.40 L185.10,146.20 L185.50,145.96 L185.90,145.69 L186.30,145.40 L186.70,145.08 L187.10,144.75 L187.50,144.41 L187.90,144.06 L188.30,143.71 L188.70,143.35 L189.10,143.00 L189.50,142.65 L189.90,142.30 L190.30,141.96 L190.70,141.64 L191.10,141.32 L191.50,141.02 L191.90,140.73 L192.30,140.46 L192.70,140.21 L193.10,139.98 L193.50,139.77 L193.90,139.58 L194.30,139.42 L194.70,139.28 L195.10,139.17 L195.50,139.09 L195.90,139.03 L196.30,139.00 L196.70,139.01 L197.10,139.09 L197.50,139.25 L197.90,139.49 L198.30,139.80 L198.70,140.17 L199.10,140.61 L199.50,141.09 L199.90,141.62 L200.30,142.19 L200.70,142.78 L201.10,143.38 L201.50,144.00 L201.90,144.61 L202.30,145.22 L202.70,145.81 L203.10,146.39 L203.50,146.93 L203.90,147.45 L204.30,147.94 L204.70,148.39 L205.10,148.81 L205.50,149.19 L205.90,149.53 L206.30,149.84 L206.70,150.11 L207.10,150.36 L207.50,150.57 L207.90,150.76 L208.30,150.92 L208.70,151.05 L209.10,151.17 L209.50,151.27 L209.90,151.35 L210.30,151.42 L210.70,151.47 L211.10,151.52 L211.50,151.56 L211.90,151.59 L212.30,151.61 L212.70,151.63 L213.10,151.65 L213.50,151.66 L213.90,151.67 L214.30,151.68 L214.70,151.68 L215.10,151.69 L215.50,151.69 L215.90,151.69 L216.30,151.70 L216.70,151.70 L217.10,151.70 L217.50,151.70 L217.90,151.70 L218.30,151.70 L218.70,151.70 L219.10,151.70 L219.50,151.70 L219.90,151.70 L220.30,151.70 L220.70,151.70 L221.10,151.70 L221.50,151.70 L221.90,151.70 L222.30,151.70 L222.70,151.70 L223.10,151.70 L223.50,151.70 L223.90,151.70 L224.30,151.70 L224.70,151.70 L225.10,151.70 L225.50,151.70 L225.90,151.70 L226.30,151.70 L226.70,151.70 L227.10,151.70 L227.50,151.70 L227.90,151.70 L228.30,151.70 L228.70,151.70 L229.10,151.70 L229.50,151.70 L229.90,151.70 L230.30,151.70 L230.70,151.70 L231.10,151.70 L231.50,151.70 L231.90,151.70 L232.30,151.70 L232.70,151.70 L233.10,151.70 L233.50,151.70 L233.90,151.70 L234.30,151.70 L234.70,151.70 L235.10,151.70 L235.50,151.70 L235.90,151.70 L236.30,151.70 L236.70,151.70 L237.10,151.70 L237.50,151.70 L237.90,151.70 L238.30,151.70 L238.70,151.70 L239.10,151.70 L239.50,151.70 L239.90,151.70 L240.30,151.70 L240.70,151.70 L241.10,151.70 L241.50,151.70 L241.90,151.70 L242.30,151.70 L242.70,151.70 L243.10,151.70 L243.50,151.70 L243.90,151.70 L244.30,151.70 L244.70,151.70 L245.10,151.70 L245.50,151.70 L245.90,151.70 L246.30,151.70 L246.70,151.70 L247.10,151.70 L247.50,151.70 L247.90,151.70 L248.30,151.70 L248.70,151.70 L249.10,151.70 L249.50,151.70 L249.90,151.70 L250.30,151.70 L250.70,151.70 L251.10,151.70 L251.50,151.70 L251.90,151.70 L252.30,151.70 L252.70,151.70 L253.10,151.70 L253.50,151.70 L253.90,151.70 L254.30,151.70 L254.70,151.70 L255.10,151.70 L255.50,151.70 L255.90,151.70 L256.30,151.70 L256.70,151.70 L257.10,151.70 L257.50,151.70 L257.90,151.70" fill="none" stroke="#c24456" stroke-width="1.3" stroke-linejoin="round"/>
<path d="M147.90,151.70 L148.30,151.70 L148.70,151.70 L149.10,151.70 L149.50,151.70 L149.90,151.69 L150.30,151.69 L150.70,151.69 L151.10,151.68 L151.50,151.67 L151.90,151.66 L152.30,151.65 L152.70,151.63 L153.10,151.60 L153.50,151.57 L153.90,151.52 L154.30,151.46 L154.70,151.39 L155.10,151.29 L155.50,151.16 L155.90,151.00 L156.30,150.80 L156.70,150.55 L157.10,150.23 L157.50,149.84 L157.90,149.37 L158.30,148.79 L158.70,148.09 L159.10,147.26 L159.50,146.27 L159.90,145.10 L160.30,143.73 L160.70,142.14 L161.10,140.32 L161.50,138.23 L161.90,135.87 L162.30,133.21 L162.70,130.26 L163.10,127.00 L163.50,123.43 L163.90,119.56 L164.30,115.40 L164.70,110.98 L165.10,106.32 L165.50,101.47 L165.90,96.47 L166.30,91.37 L166.70,86.24 L167.10,81.14 L167.50,76.15 L167.90,71.35 L168.30,66.81 L168.70,62.61 L169.10,58.82 L169.50,55.51 L169.90,52.75 L170.30,50.58 L170.70,49.05 L171.10,48.19 L171.50,48.03 L171.90,48.67 L172.30,50.15 L172.70,52.43 L173.10,55.46 L173.50,59.16 L173.90,63.46 L174.30,68.25 L174.70,73.42 L175.10,78.88 L175.50,84.52 L175.90,90.23 L176.30,95.92 L176.70,101.50 L177.10,106.89 L177.50,112.03 L177.90,116.88 L178.30,121.38 L178.70,125.51 L179.10,129.27 L179.50,132.65 L179.90,135.65 L180.30,138.29 L180.70,140.59 L181.10,142.57 L181.50,144.26 L181.90,145.69 L182.30,146.88 L182.70,147.87 L183.10,148.68 L183.50,149.34 L183.90,149.87 L184.30,150.29 L184.70,150.62 L185.10,150.89 L185.50,151.09 L185.90,151.25 L186.30,151.36 L186.70,151.45 L187.10,151.52 L187.50,151.57 L187.90,151.61 L188.30,151.64 L188.70,151.65 L189.10,151.67 L189.50,151.68 L189.90,151.68 L190.30,151.69 L190.70,151.69 L191.10,151.70 L191.50,151.70 L191.90,151.70 L192.30,151.70 L192.70,151.70 L193.10,151.70 L193.50,151.70 L193.90,151.70 L194.30,151.70 L194.70,151.70 L195.10,151.70 L195.50,151.70 L195.90,151.70 L196.30,151.70 L196.70,151.70 L197.10,151.70 L197.50,151.70 L197.90,151.70 L198.30,151.70 L198.70,151.70 L199.10,151.70 L199.50,151.70 L199.90,151.70 L200.30,151.70 L200.70,151.70 L201.10,151.70 L201.50,151.70 L201.90,151.70 L202.30,151.70 L202.70,151.70 L203.10,151.70 L203.50,151.70 L203.90,151.70 L204.30,151.70 L204.70,151.70 L205.10,151.70 L205.50,151.70 L205.90,151.70 L206.30,151.70 L206.70,151.70 L207.10,151.70 L207.50,151.70 L207.90,151.70 L208.30,151.70 L208.70,151.70 L209.10,151.70 L209.50,151.70 L209.90,151.70 L210.30,151.70 L210.70,151.70 L211.10,151.70 L211.50,151.70 L211.90,151.70 L212.30,151.70 L212.70,151.70 L213.10,151.70 L213.50,151.70 L213.90,151.70 L214.30,151.70 L214.70,151.70 L215.10,151.70 L215.50,151.70 L215.90,151.70 L216.30,151.70 L216.70,151.70 L217.10,151.70 L217.50,151.70 L217.90,151.70 L218.30,151.70 L218.70,151.70 L219.10,151.70 L219.50,151.70 L219.90,151.70 L220.30,151.70 L220.70,151.70 L221.10,151.70 L221.50,151.70 L221.90,151.70 L222.30,151.70 L222.70,151.70 L223.10,151.70 L223.50,151.70 L223.90,151.70 L224.30,151.70 L224.70,151.70 L225.10,151.70 L225.50,151.70 L225.90,151.70 L226.30,151.70 L226.70,151.70 L227.10,151.70 L227.50,151.70 L227.90,151.70 L228.30,151.70 L228.70,151.70 L229.10,151.70 L229.50,151.70 L229.90,151.70 L230.30,151.70 L230.70,151.70 L231.10,151.70 L231.50,151.70 L231.90,151.70 L232.30,151.70 L232.70,151.70 L233.10,151.70 L233.50,151.70 L233.90,151.70 L234.30,151.70 L234.70,151.70 L235.10,151.70 L235.50,151.70 L235.90,151.70 L236.30,151.70 L236.70,151.70 L237.10,151.70 L237.50,151.70 L237.90,151.70 L238.30,151.70 L238.70,151.70 L239.10,151.70 L239.50,151.70 L239.90,151.70 L240.30,151.70 L240.70,151.70 L241.10,151.70 L241.50,151.70 L241.90,151.70 L242.30,151.70 L242.70,151.70 L243.10,151.70 L243.50,151.70 L243.90,151.70 L244.30,151.70 L244.70,151.70 L245.10,151.70 L245.50,151.70 L245.90,151.70 L246.30,151.70 L246.70,151.70 L247.10,151.70 L247.50,151.70 L247.90,151.70 L248.30,151.70 L248.70,151.70 L249.10,151.70 L249.50,151.70 L249.90,151.70 L250.30,151.70 L250.70,151.70 L251.10,151.70 L251.50,151.70 L251.90,151.70 L252.30,151.70 L252.70,151.70 L253.10,151.70 L253.50,151.70 L253.90,151.70 L254.30,151.70 L254.70,151.70 L255.10,151.70 L255.50,151.70 L255.90,151.70 L256.30,151.70 L256.70,151.70 L257.10,151.70 L257.50,151.70 L257.90,151.70" fill="none" stroke="#34407a" stroke-width="1.1" stroke-linejoin="round"/>
<path d="M147.90,151.70 L148.30,151.70 L148.70,151.70 L149.10,151.70 L149.50,151.70 L149.90,151.70 L150.30,151.70 L150.70,151.70 L151.10,151.70 L151.50,151.70 L151.90,151.70 L152.30,151.70 L152.70,151.70 L153.10,151.70 L153.50,151.70 L153.90,151.70 L154.30,151.70 L154.70,151.70 L155.10,151.70 L155.50,151.70 L155.90,151.70 L156.30,151.70 L156.70,151.70 L157.10,151.70 L157.50,151.70 L157.90,151.70 L158.30,151.70 L158.70,151.70 L159.10,151.70 L159.50,151.70 L159.90,151.70 L160.30,151.70 L160.70,151.70 L161.10,151.70 L161.50,151.70 L161.90,151.70 L162.30,151.70 L162.70,151.70 L163.10,151.70 L163.50,151.70 L163.90,151.70 L164.30,151.70 L164.70,151.70 L165.10,151.70 L165.50,151.70 L165.90,151.70 L166.30,151.70 L166.70,151.70 L167.10,151.70 L167.50,151.70 L167.90,151.70 L168.30,151.70 L168.70,151.70 L169.10,151.70 L169.50,151.70 L169.90,151.69 L170.30,151.69 L170.70,151.69 L171.10,151.68 L171.50,151.68 L171.90,151.67 L172.30,151.66 L172.70,151.65 L173.10,151.63 L173.50,151.61 L173.90,151.58 L174.30,151.54 L174.70,151.50 L175.10,151.44 L175.50,151.37 L175.90,151.27 L176.30,151.16 L176.70,151.02 L177.10,150.84 L177.50,150.62 L177.90,150.36 L178.30,150.04 L178.70,149.66 L179.10,149.20 L179.50,148.65 L179.90,148.00 L180.30,147.24 L180.70,146.34 L181.10,145.30 L181.50,144.10 L181.90,142.71 L182.30,141.14 L182.70,139.34 L183.10,137.33 L183.50,135.07 L183.90,132.55 L184.30,129.78 L184.70,126.73 L185.10,123.42 L185.50,119.84 L185.90,116.00 L186.30,111.92 L186.70,107.61 L187.10,103.11 L187.50,98.45 L187.90,93.66 L188.30,88.80 L188.70,83.92 L189.10,79.09 L189.50,74.35 L189.90,69.79 L190.30,65.48 L190.70,61.48 L191.10,57.86 L191.50,54.71 L191.90,52.08 L192.30,50.05 L192.70,48.68 L193.10,48.03 L193.50,48.30 L193.90,49.50 L194.30,51.51 L194.70,54.23 L195.10,57.60 L195.50,61.52 L195.90,65.90 L196.30,70.64 L196.70,75.65 L197.10,80.85 L197.50,86.15 L197.90,91.45 L198.30,96.70 L198.70,101.83 L199.10,106.78 L199.50,111.50 L199.90,115.96 L200.30,120.13 L200.70,123.99 L201.10,127.54 L201.50,130.76 L201.90,133.67 L202.30,136.28 L202.70,138.59 L203.10,140.62 L203.50,142.40 L203.90,143.94 L204.30,145.26 L204.70,146.40 L205.10,147.36 L205.50,148.16 L205.90,148.84 L206.30,149.40 L206.70,149.86 L207.10,150.24 L207.50,150.55 L207.90,150.79 L208.30,150.99 L208.70,151.15 L209.10,151.28 L209.50,151.38 L209.90,151.45 L210.30,151.51 L210.70,151.56 L211.10,151.59 L211.50,151.62 L211.90,151.64 L212.30,151.66 L212.70,151.67 L213.10,151.68 L213.50,151.68 L213.90,151.69 L214.30,151.69 L214.70,151.69 L215.10,151.70 L215.50,151.70 L215.90,151.70 L216.30,151.70 L216.70,151.70 L217.10,151.70 L217.50,151.70 L217.90,151.70 L218.30,151.70 L218.70,151.70 L219.10,151.70 L219.50,151.70 L219.90,151.70 L220.30,151.70 L220.70,151.70 L221.10,151.70 L221.50,151.70 L221.90,151.70 L222.30,151.70 L222.70,151.70 L223.10,151.70 L223.50,151.70 L223.90,151.70 L224.30,151.70 L224.70,151.70 L225.10,151.70 L225.50,151.70 L225.90,151.70 L226.30,151.70 L226.70,151.70 L227.10,151.70 L227.50,151.70 L227.90,151.70 L228.30,151.70 L228.70,151.70 L229.10,151.70 L229.50,151.70 L229.90,151.70 L230.30,151.70 L230.70,151.70 L231.10,151.70 L231.50,151.70 L231.90,151.70 L232.30,151.70 L232.70,151.70 L233.10,151.70 L233.50,151.70 L233.90,151.70 L234.30,151.70 L234.70,151.70 L235.10,151.70 L235.50,151.70 L235.90,151.70 L236.30,151.70 L236.70,151.70 L237.10,151.70 L237.50,151.70 L237.90,151.70 L238.30,151.70 L238.70,151.70 L239.10,151.70 L239.50,151.70 L239.90,151.70 L240.30,151.70 L240.70,151.70 L241.10,151.70 L241.50,151.70 L241.90,151.70 L242.30,151.70 L242.70,151.70 L243.10,151.70 L243.50,151.70 L243.90,151.70 L244.30,151.70 L244.70,151.70 L245.10,151.70 L245.50,151.70 L245.90,151.70 L246.30,151.70 L246.70,151.70 L247.10,151.70 L247.50,151.70 L247.90,151.70 L248.30,151.70 L248.70,151.70 L249.10,151.70 L249.50,151.70 L249.90,151.70 L250.30,151.70 L250.70,151.70 L251.10,151.70 L251.50,151.70 L251.90,151.70 L252.30,151.70 L252.70,151.70 L253.10,151.70 L253.50,151.70 L253.90,151.70 L254.30,151.70 L254.70,151.70 L255.10,151.70 L255.50,151.70 L255.90,151.70 L256.30,151.70 L256.70,151.70 L257.10,151.70 L257.50,151.70 L257.90,151.70" fill="none" stroke="#1a1a1a" stroke-width="1.45" stroke-linejoin="round"/>
<line x1="147.40" y1="42.70" x2="147.40" y2="152.50" stroke="#555" stroke-width="1.1"/>
<line x1="146.00" y1="146.50" x2="147.40" y2="146.50" stroke="#555" stroke-width="0.8"/>
<line x1="146.00" y1="141.30" x2="147.40" y2="141.30" stroke="#555" stroke-width="0.8"/>
<line x1="146.00" y1="136.10" x2="147.40" y2="136.10" stroke="#555" stroke-width="0.8"/>
<line x1="145.00" y1="130.90" x2="147.40" y2="130.90" stroke="#555" stroke-width="0.8"/>
<line x1="146.00" y1="125.70" x2="147.40" y2="125.70" stroke="#555" stroke-width="0.8"/>
<line x1="146.00" y1="120.50" x2="147.40" y2="120.50" stroke="#555" stroke-width="0.8"/>
<line x1="146.00" y1="115.30" x2="147.40" y2="115.30" stroke="#555" stroke-width="0.8"/>
<line x1="145.00" y1="110.10" x2="147.40" y2="110.10" stroke="#555" stroke-width="0.8"/>
<line x1="146.00" y1="104.90" x2="147.40" y2="104.90" stroke="#555" stroke-width="0.8"/>
<line x1="146.00" y1="99.70" x2="147.40" y2="99.70" stroke="#555" stroke-width="0.8"/>
<line x1="146.00" y1="94.50" x2="147.40" y2="94.50" stroke="#555" stroke-width="0.8"/>
<line x1="145.00" y1="89.30" x2="147.40" y2="89.30" stroke="#555" stroke-width="0.8"/>
<line x1="146.00" y1="84.10" x2="147.40" y2="84.10" stroke="#555" stroke-width="0.8"/>
<line x1="146.00" y1="78.90" x2="147.40" y2="78.90" stroke="#555" stroke-width="0.8"/>
<line x1="146.00" y1="73.70" x2="147.40" y2="73.70" stroke="#555" stroke-width="0.8"/>
<line x1="145.00" y1="68.50" x2="147.40" y2="68.50" stroke="#555" stroke-width="0.8"/>
<line x1="146.00" y1="63.30" x2="147.40" y2="63.30" stroke="#555" stroke-width="0.8"/>
<line x1="146.00" y1="58.10" x2="147.40" y2="58.10" stroke="#555" stroke-width="0.8"/>
<line x1="146.00" y1="52.90" x2="147.40" y2="52.90" stroke="#555" stroke-width="0.8"/>
<line x1="145.00" y1="47.70" x2="147.40" y2="47.70" stroke="#555" stroke-width="0.8"/>
<line x1="149.40" y1="151.70" x2="149.40" y2="154.30" stroke="#444" stroke-width="0.8"/>
<line x1="157.42" y1="151.70" x2="157.42" y2="153.30" stroke="#444" stroke-width="0.8"/>
<line x1="162.12" y1="151.70" x2="162.12" y2="153.30" stroke="#444" stroke-width="0.8"/>
<line x1="165.44" y1="151.70" x2="165.44" y2="153.30" stroke="#444" stroke-width="0.8"/>
<line x1="168.03" y1="151.70" x2="168.03" y2="153.30" stroke="#444" stroke-width="0.8"/>
<line x1="170.14" y1="151.70" x2="170.14" y2="153.30" stroke="#444" stroke-width="0.8"/>
<line x1="171.92" y1="151.70" x2="171.92" y2="153.30" stroke="#444" stroke-width="0.8"/>
<line x1="173.47" y1="151.70" x2="173.47" y2="153.30" stroke="#444" stroke-width="0.8"/>
<line x1="174.83" y1="151.70" x2="174.83" y2="153.30" stroke="#444" stroke-width="0.8"/>
<line x1="176.05" y1="151.70" x2="176.05" y2="154.30" stroke="#444" stroke-width="0.8"/>
<line x1="184.07" y1="151.70" x2="184.07" y2="153.30" stroke="#444" stroke-width="0.8"/>
<line x1="188.77" y1="151.70" x2="188.77" y2="153.30" stroke="#444" stroke-width="0.8"/>
<line x1="192.09" y1="151.70" x2="192.09" y2="153.30" stroke="#444" stroke-width="0.8"/>
<line x1="194.68" y1="151.70" x2="194.68" y2="153.30" stroke="#444" stroke-width="0.8"/>
<line x1="196.79" y1="151.70" x2="196.79" y2="153.30" stroke="#444" stroke-width="0.8"/>
<line x1="198.57" y1="151.70" x2="198.57" y2="153.30" stroke="#444" stroke-width="0.8"/>
<line x1="200.12" y1="151.70" x2="200.12" y2="153.30" stroke="#444" stroke-width="0.8"/>
<line x1="201.48" y1="151.70" x2="201.48" y2="153.30" stroke="#444" stroke-width="0.8"/>
<line x1="202.70" y1="151.70" x2="202.70" y2="154.30" stroke="#444" stroke-width="0.8"/>
<line x1="210.72" y1="151.70" x2="210.72" y2="153.30" stroke="#444" stroke-width="0.8"/>
<line x1="215.42" y1="151.70" x2="215.42" y2="153.30" stroke="#444" stroke-width="0.8"/>
<line x1="218.74" y1="151.70" x2="218.74" y2="153.30" stroke="#444" stroke-width="0.8"/>
<line x1="221.33" y1="151.70" x2="221.33" y2="153.30" stroke="#444" stroke-width="0.8"/>
<line x1="223.44" y1="151.70" x2="223.44" y2="153.30" stroke="#444" stroke-width="0.8"/>
<line x1="225.22" y1="151.70" x2="225.22" y2="153.30" stroke="#444" stroke-width="0.8"/>
<line x1="226.77" y1="151.70" x2="226.77" y2="153.30" stroke="#444" stroke-width="0.8"/>
<line x1="228.13" y1="151.70" x2="228.13" y2="153.30" stroke="#444" stroke-width="0.8"/>
<line x1="229.35" y1="151.70" x2="229.35" y2="154.30" stroke="#444" stroke-width="0.8"/>
<line x1="237.37" y1="151.70" x2="237.37" y2="153.30" stroke="#444" stroke-width="0.8"/>
<line x1="242.07" y1="151.70" x2="242.07" y2="153.30" stroke="#444" stroke-width="0.8"/>
<line x1="245.39" y1="151.70" x2="245.39" y2="153.30" stroke="#444" stroke-width="0.8"/>
<line x1="247.98" y1="151.70" x2="247.98" y2="153.30" stroke="#444" stroke-width="0.8"/>
<line x1="250.09" y1="151.70" x2="250.09" y2="153.30" stroke="#444" stroke-width="0.8"/>
<line x1="251.87" y1="151.70" x2="251.87" y2="153.30" stroke="#444" stroke-width="0.8"/>
<line x1="253.42" y1="151.70" x2="253.42" y2="153.30" stroke="#444" stroke-width="0.8"/>
<line x1="254.78" y1="151.70" x2="254.78" y2="153.30" stroke="#444" stroke-width="0.8"/>
<line x1="147.40" y1="151.70" x2="258.00" y2="151.70" stroke="#444" stroke-width="1.1" />
<line x1="147.90" y1="151.40" x2="258.00" y2="151.40" stroke="#c24456" stroke-width="1.0" />
<path d="M20.40,299.00 L20.80,299.00 L21.20,299.00 L21.60,299.00 L22.00,299.00 L22.40,299.00 L22.80,299.00 L23.20,299.00 L23.60,299.00 L24.00,299.00 L24.40,299.00 L24.80,299.00 L25.20,299.00 L25.60,299.00 L26.00,299.00 L26.40,299.00 L26.80,299.00 L27.20,299.00 L27.60,299.00 L28.00,299.00 L28.40,299.00 L28.80,299.00 L29.20,299.00 L29.60,299.00 L30.00,299.00 L30.40,299.00 L30.80,299.00 L31.20,299.00 L31.60,299.00 L32.00,299.00 L32.40,299.00 L32.80,299.00 L33.20,299.00 L33.60,299.00 L34.00,299.00 L34.40,299.00 L34.80,299.00 L35.20,299.00 L35.60,299.00 L36.00,299.00 L36.40,299.00 L36.80,299.00 L37.20,299.00 L37.60,299.00 L38.00,299.00 L38.40,299.00 L38.80,299.00 L39.20,299.00 L39.60,299.00 L40.00,299.00 L40.40,299.00 L40.80,299.00 L41.20,299.00 L41.60,299.00 L42.00,299.00 L42.40,299.00 L42.80,299.00 L43.20,299.00 L43.60,299.00 L44.00,299.00 L44.40,299.00 L44.80,299.00 L45.20,299.00 L45.60,299.00 L46.00,299.00 L46.40,299.00 L46.80,299.00 L47.20,299.00 L47.60,299.00 L48.00,299.00 L48.40,299.00 L48.80,299.00 L49.20,299.00 L49.60,299.00 L50.00,299.00 L50.40,299.00 L50.80,299.00 L51.20,299.00 L51.60,299.00 L52.00,299.00 L52.40,299.00 L52.80,299.00 L53.20,299.00 L53.60,299.00 L54.00,299.00 L54.40,299.00 L54.80,299.00 L55.20,299.00 L55.60,299.00 L56.00,299.00 L56.40,299.00 L56.80,299.00 L57.20,299.00 L57.60,299.00 L58.00,299.00 L58.40,299.00 L58.80,299.00 L59.20,299.00 L59.60,299.00 L60.00,299.00 L60.40,299.00 L60.80,299.00 L61.20,299.00 L61.60,299.00 L62.00,299.00 L62.40,299.00 L62.80,299.00 L63.20,299.00 L63.60,299.00 L64.00,299.00 L64.40,299.00 L64.80,299.00 L65.20,299.00 L65.60,299.00 L66.00,299.00 L66.40,299.00 L66.80,299.00 L67.20,299.00 L67.60,299.00 L68.00,299.00 L68.40,299.00 L68.80,299.00 L69.20,299.00 L69.60,299.00 L70.00,299.00 L70.40,299.00 L70.80,299.00 L71.20,299.00 L71.60,299.00 L72.00,299.00 L72.40,299.00 L72.80,299.00 L73.20,299.00 L73.60,299.00 L74.00,299.00 L74.40,299.00 L74.80,299.00 L75.20,299.00 L75.60,299.00 L76.00,298.99 L76.40,298.97 L76.80,298.96 L77.20,298.93 L77.60,298.91 L78.00,298.88 L78.40,298.84 L78.80,298.80 L79.20,298.75 L79.60,298.69 L80.00,298.64 L80.40,298.57 L80.80,298.50 L81.20,298.24 L81.60,297.62 L82.00,296.70 L82.40,295.52 L82.80,294.11 L83.20,292.53 L83.60,290.81 L84.00,289.00 L84.40,286.70 L84.80,283.56 L85.20,279.73 L85.60,275.33 L86.00,270.49 L86.40,265.36 L86.80,260.07 L87.20,254.75 L87.60,249.53 L88.00,244.36 L88.40,238.40 L88.80,231.90 L89.20,225.32 L89.60,219.13 L90.00,213.78 L90.40,209.75 L90.80,206.94 L91.20,204.28 L91.60,201.80 L92.00,199.61 L92.40,197.78 L92.80,196.41 L93.20,195.59 L93.60,195.42 L94.00,195.94 L94.40,196.98 L94.80,198.36 L95.20,199.88 L95.60,201.37 L96.00,203.01 L96.40,204.89 L96.80,206.96 L97.20,209.20 L97.60,211.56 L98.00,214.00 L98.40,216.70 L98.80,219.79 L99.20,223.15 L99.60,226.68 L100.00,230.26 L100.40,233.77 L100.80,237.12 L101.20,240.18 L101.60,242.85 L102.00,245.02 L102.40,246.74 L102.80,248.31 L103.20,250.01 L103.60,252.11 L104.00,254.62 L104.40,257.41 L104.80,260.37 L105.20,263.36 L105.60,266.28 L106.00,269.00 L106.40,271.61 L106.80,274.26 L107.20,276.88 L107.60,279.44 L108.00,281.86 L108.40,284.10 L108.80,286.10 L109.20,287.86 L109.60,289.58 L110.00,291.25 L110.40,292.82 L110.80,294.23 L111.20,295.44 L111.60,296.38 L112.00,297.00 L112.40,297.43 L112.80,297.83 L113.20,298.18 L113.60,298.49 L114.00,298.73 L114.40,298.90 L114.80,298.99 L115.20,299.00 L115.60,299.00 L116.00,299.00 L116.40,299.00 L116.80,299.00 L117.20,299.00 L117.60,299.00 L118.00,299.00 L118.40,299.00 L118.80,299.00 L119.20,299.00 L119.60,299.00 L120.00,299.00 L120.40,299.00 L120.80,299.00 L121.20,299.00 L121.60,299.00 L122.00,299.00 L122.40,299.00 L122.80,299.00 L123.20,299.00 L123.60,299.00 L124.00,299.00 L124.40,299.00 L124.80,299.00 L125.20,299.00 L125.60,299.00 L126.00,299.00 L126.40,299.00 L126.80,299.00 L127.20,299.00 L127.60,299.00 L128.00,299.00 L128.40,299.00 L128.80,299.00 L129.20,299.00 L129.60,299.00 L130.00,299.00 L130.40,299.00 L130.80,299.00 L131.20,299.00 L131.50,299.00 L20.40,299.00 Z" fill="#e7e7e7" stroke="none"/>
<path d="M20.90,299.00 L21.30,299.00 L21.70,299.00 L22.10,299.00 L22.50,299.00 L22.90,299.00 L23.30,299.00 L23.70,299.00 L24.10,299.00 L24.50,299.00 L24.90,299.00 L25.30,299.00 L25.70,299.00 L26.10,299.00 L26.50,299.00 L26.90,299.00 L27.30,299.00 L27.70,299.00 L28.10,299.00 L28.50,299.00 L28.90,299.00 L29.30,299.00 L29.70,299.00 L30.10,299.00 L30.50,299.00 L30.90,299.00 L31.30,299.00 L31.70,299.00 L32.10,299.00 L32.50,299.00 L32.90,299.00 L33.30,299.00 L33.70,299.00 L34.10,299.00 L34.50,299.00 L34.90,299.00 L35.30,299.00 L35.70,299.00 L36.10,299.00 L36.50,299.00 L36.90,299.00 L37.30,299.00 L37.70,299.00 L38.10,299.00 L38.50,299.00 L38.90,299.00 L39.30,299.00 L39.70,299.00 L40.10,299.00 L40.50,299.00 L40.90,299.00 L41.30,299.00 L41.70,299.00 L42.10,299.00 L42.50,299.00 L42.90,299.00 L43.30,299.00 L43.70,299.00 L44.10,299.00 L44.50,299.00 L44.90,299.00 L45.30,299.00 L45.70,299.00 L46.10,299.00 L46.50,299.00 L46.90,299.00 L47.30,299.00 L47.70,299.00 L48.10,299.00 L48.50,299.00 L48.90,299.00 L49.30,299.00 L49.70,299.00 L50.10,299.00 L50.50,299.00 L50.90,299.00 L51.30,299.00 L51.70,299.00 L52.10,299.00 L52.50,299.00 L52.90,299.00 L53.30,299.00 L53.70,299.00 L54.10,299.00 L54.50,299.00 L54.90,299.00 L55.30,299.00 L55.70,299.00 L56.10,299.00 L56.50,299.00 L56.90,299.00 L57.30,299.00 L57.70,299.00 L58.10,299.00 L58.50,299.00 L58.90,299.00 L59.30,299.00 L59.70,299.00 L60.10,299.00 L60.50,299.00 L60.90,299.00 L61.30,299.00 L61.70,299.00 L62.10,299.00 L62.50,299.00 L62.90,299.00 L63.30,299.00 L63.70,299.00 L64.10,299.00 L64.50,299.00 L64.90,299.00 L65.30,299.00 L65.70,299.00 L66.10,299.00 L66.50,299.00 L66.90,299.00 L67.30,299.00 L67.70,299.00 L68.10,299.00 L68.50,299.00 L68.90,299.00 L69.30,299.00 L69.70,299.00 L70.10,299.00 L70.50,299.00 L70.90,299.00 L71.30,299.00 L71.70,299.00 L72.10,299.00 L72.50,299.00 L72.90,299.00 L73.30,299.00 L73.70,299.00 L74.10,299.00 L74.50,299.00 L74.90,299.00 L75.30,299.00 L75.70,298.99 L76.10,298.98 L76.50,298.97 L76.90,298.95 L77.30,298.93 L77.70,298.90 L78.10,298.87 L78.50,298.83 L78.90,298.78 L79.30,298.73 L79.70,298.68 L80.10,298.62 L80.50,298.55 L80.90,298.47 L81.30,298.11 L81.70,297.42 L82.10,296.43 L82.50,295.19 L82.90,293.73 L83.30,292.11 L83.70,290.36 L84.10,288.51 L84.50,285.99 L84.90,282.66 L85.30,278.67 L85.70,274.15 L86.10,269.23 L86.50,264.05 L86.90,258.74 L87.30,253.43 L87.70,248.26 L88.10,242.95 L88.50,236.80 L88.90,230.24 L89.30,223.72 L89.70,217.69 L90.10,212.63 L90.50,209.00 L90.90,206.26 L91.30,203.64 L91.70,201.22 L92.10,199.11 L92.50,197.39 L92.90,196.15 L93.30,195.49 L93.70,195.49 L94.10,196.16 L94.50,197.30 L94.90,198.73 L95.30,200.26 L95.70,201.75 L96.10,203.46 L96.50,205.39 L96.90,207.51 L97.30,209.78 L97.70,212.16 L98.10,214.63 L98.50,217.44 L98.90,220.61 L99.30,224.02 L99.70,227.57 L100.10,231.14 L100.50,234.63 L100.90,237.91 L101.30,240.89 L101.70,243.44 L102.10,245.48 L102.50,247.14 L102.90,248.71 L103.30,250.49 L103.70,252.70 L104.10,255.29 L104.50,258.14 L104.90,261.12 L105.30,264.11 L105.70,266.99 L106.10,269.65 L106.50,272.27 L106.90,274.92 L107.30,277.53 L107.70,280.06 L108.10,282.44 L108.50,284.63 L108.90,286.56 L109.30,288.29 L109.70,290.00 L110.10,291.65 L110.50,293.19 L110.90,294.56 L111.30,295.70 L111.70,296.57 L112.10,297.11 L112.50,297.53 L112.90,297.92 L113.30,298.27 L113.70,298.55 L114.10,298.78 L114.50,298.93 L114.90,299.00 L115.30,299.00 L115.70,299.00 L116.10,299.00 L116.50,299.00 L116.90,299.00 L117.30,299.00 L117.70,299.00 L118.10,299.00 L118.50,299.00 L118.90,299.00 L119.30,299.00 L119.70,299.00 L120.10,299.00 L120.50,299.00 L120.90,299.00 L121.30,299.00 L121.70,299.00 L122.10,299.00 L122.50,299.00 L122.90,299.00 L123.30,299.00 L123.70,299.00 L124.10,299.00 L124.50,299.00 L124.90,299.00 L125.30,299.00 L125.70,299.00 L126.10,299.00 L126.50,299.00 L126.90,299.00 L127.30,299.00 L127.70,299.00 L128.10,299.00 L128.50,299.00 L128.90,299.00 L129.30,299.00 L129.70,299.00 L130.10,299.00 L130.50,299.00 L130.90,299.00 L131.30,299.00" fill="none" stroke="#6a6a6a" stroke-width="1.3" stroke-linejoin="round"/>
<path d="M20.90,299.00 L21.30,299.00 L21.70,299.00 L22.10,299.00 L22.50,299.00 L22.90,299.00 L23.30,299.00 L23.70,299.00 L24.10,299.00 L24.50,299.00 L24.90,299.00 L25.30,299.00 L25.70,299.00 L26.10,299.00 L26.50,299.00 L26.90,299.00 L27.30,299.00 L27.70,299.00 L28.10,299.00 L28.50,299.00 L28.90,299.00 L29.30,299.00 L29.70,299.00 L30.10,299.00 L30.50,299.00 L30.90,299.00 L31.30,299.00 L31.70,299.00 L32.10,299.00 L32.50,299.00 L32.90,299.00 L33.30,299.00 L33.70,299.00 L34.10,299.00 L34.50,299.00 L34.90,299.00 L35.30,299.00 L35.70,299.00 L36.10,299.00 L36.50,299.00 L36.90,299.00 L37.30,299.00 L37.70,299.00 L38.10,299.00 L38.50,299.00 L38.90,299.00 L39.30,299.00 L39.70,299.00 L40.10,299.00 L40.50,299.00 L40.90,299.00 L41.30,299.00 L41.70,299.00 L42.10,299.00 L42.50,299.00 L42.90,299.00 L43.30,299.00 L43.70,299.00 L44.10,299.00 L44.50,299.00 L44.90,299.00 L45.30,299.00 L45.70,299.00 L46.10,299.00 L46.50,299.00 L46.90,299.00 L47.30,299.00 L47.70,299.00 L48.10,299.00 L48.50,299.00 L48.90,299.00 L49.30,299.00 L49.70,299.00 L50.10,299.00 L50.50,299.00 L50.90,299.00 L51.30,299.00 L51.70,299.00 L52.10,299.00 L52.50,299.00 L52.90,299.00 L53.30,299.00 L53.70,299.00 L54.10,299.00 L54.50,299.00 L54.90,299.00 L55.30,299.00 L55.70,299.00 L56.10,299.00 L56.50,299.00 L56.90,299.00 L57.30,299.00 L57.70,299.00 L58.10,299.00 L58.50,299.00 L58.90,299.00 L59.30,299.00 L59.70,299.00 L60.10,299.00 L60.50,299.00 L60.90,299.00 L61.30,299.00 L61.70,299.00 L62.10,299.00 L62.50,299.00 L62.90,299.00 L63.30,299.00 L63.70,299.00 L64.10,299.00 L64.50,299.00 L64.90,299.00 L65.30,299.00 L65.70,299.00 L66.10,299.00 L66.50,299.00 L66.90,299.00 L67.30,299.00 L67.70,299.00 L68.10,299.00 L68.50,299.00 L68.90,299.00 L69.30,299.00 L69.70,299.00 L70.10,299.00 L70.50,299.00 L70.90,299.00 L71.30,299.00 L71.70,299.00 L72.10,299.00 L72.50,299.00 L72.90,299.00 L73.30,299.00 L73.70,299.00 L74.10,299.00 L74.50,299.00 L74.90,299.00 L75.30,299.00 L75.70,298.99 L76.10,298.99 L76.50,298.97 L76.90,298.96 L77.30,298.94 L77.70,298.91 L78.10,298.89 L78.50,298.85 L78.90,298.81 L79.30,298.77 L79.70,298.72 L80.10,298.67 L80.50,298.61 L80.90,298.55 L81.30,298.47 L81.70,298.12 L82.10,297.42 L82.50,296.43 L82.90,295.19 L83.30,293.73 L83.70,292.11 L84.10,290.36 L84.50,288.51 L84.90,285.99 L85.30,282.66 L85.70,278.67 L86.10,274.15 L86.50,269.23 L86.90,264.05 L87.30,258.74 L87.70,253.43 L88.10,248.26 L88.50,242.95 L88.90,236.83 L89.30,230.28 L89.70,223.77 L90.10,217.76 L90.50,212.68 L90.90,209.00 L91.30,206.19 L91.70,203.50 L92.10,201.02 L92.50,198.87 L92.90,197.15 L93.30,195.97 L93.70,195.42 L94.10,195.60 L94.50,196.40 L94.90,197.64 L95.30,199.11 L95.70,200.63 L96.10,202.16 L96.50,203.92 L96.90,205.90 L97.30,208.06 L97.70,210.36 L98.10,212.77 L98.50,215.30 L98.90,218.21 L99.30,221.45 L99.70,224.90 L100.10,228.47 L100.50,232.03 L100.90,235.47 L101.30,238.69 L101.70,241.57 L102.10,244.00 L102.50,245.92 L102.90,247.53 L103.30,249.13 L103.70,251.00 L104.10,253.32 L104.50,255.99 L104.90,258.88 L105.30,261.87 L105.70,264.84 L106.10,267.67 L106.50,270.30 L106.90,272.93 L107.30,275.58 L107.70,278.17 L108.10,280.67 L108.50,283.01 L108.90,285.14 L109.30,287.00 L109.70,288.72 L110.10,290.42 L110.50,292.05 L110.90,293.55 L111.30,294.87 L111.70,295.94 L112.10,296.73 L112.50,297.22 L112.90,297.63 L113.30,298.01 L113.70,298.34 L114.10,298.62 L114.50,298.82 L114.90,298.95 L115.30,299.00 L115.70,299.00 L116.10,299.00 L116.50,299.00 L116.90,299.00 L117.30,299.00 L117.70,299.00 L118.10,299.00 L118.50,299.00 L118.90,299.00 L119.30,299.00 L119.70,299.00 L120.10,299.00 L120.50,299.00 L120.90,299.00 L121.30,299.00 L121.70,299.00 L122.10,299.00 L122.50,299.00 L122.90,299.00 L123.30,299.00 L123.70,299.00 L124.10,299.00 L124.50,299.00 L124.90,299.00 L125.30,299.00 L125.70,299.00 L126.10,299.00 L126.50,299.00 L126.90,299.00 L127.30,299.00 L127.70,299.00 L128.10,299.00 L128.50,299.00 L128.90,299.00 L129.30,299.00 L129.70,299.00 L130.10,299.00 L130.50,299.00 L130.90,299.00 L131.30,299.00" fill="none" stroke="#34407a" stroke-width="1.1" stroke-linejoin="round"/>
<path d="M20.90,299.00 L21.30,299.00 L21.70,299.00 L22.10,299.00 L22.50,299.00 L22.90,299.00 L23.30,299.00 L23.70,299.00 L24.10,299.00 L24.50,299.00 L24.90,299.00 L25.30,299.00 L25.70,299.00 L26.10,299.00 L26.50,299.00 L26.90,299.00 L27.30,299.00 L27.70,299.00 L28.10,299.00 L28.50,299.00 L28.90,299.00 L29.30,299.00 L29.70,299.00 L30.10,299.00 L30.50,299.00 L30.90,299.00 L31.30,299.00 L31.70,299.00 L32.10,299.00 L32.50,299.00 L32.90,299.00 L33.30,299.00 L33.70,299.00 L34.10,299.00 L34.50,299.00 L34.90,299.00 L35.30,299.00 L35.70,299.00 L36.10,299.00 L36.50,299.00 L36.90,299.00 L37.30,299.00 L37.70,299.00 L38.10,299.00 L38.50,299.00 L38.90,299.00 L39.30,299.00 L39.70,299.00 L40.10,299.00 L40.50,299.00 L40.90,299.00 L41.30,299.00 L41.70,299.00 L42.10,299.00 L42.50,299.00 L42.90,299.00 L43.30,299.00 L43.70,299.00 L44.10,299.00 L44.50,299.00 L44.90,299.00 L45.30,299.00 L45.70,299.00 L46.10,299.00 L46.50,299.00 L46.90,299.00 L47.30,299.00 L47.70,299.00 L48.10,299.00 L48.50,299.00 L48.90,299.00 L49.30,299.00 L49.70,299.00 L50.10,299.00 L50.50,299.00 L50.90,299.00 L51.30,299.00 L51.70,299.00 L52.10,299.00 L52.50,299.00 L52.90,299.00 L53.30,299.00 L53.70,299.00 L54.10,299.00 L54.50,299.00 L54.90,299.00 L55.30,299.00 L55.70,299.00 L56.10,299.00 L56.50,299.00 L56.90,299.00 L57.30,299.00 L57.70,299.00 L58.10,299.00 L58.50,299.00 L58.90,299.00 L59.30,299.00 L59.70,299.00 L60.10,299.00 L60.50,299.00 L60.90,299.00 L61.30,299.00 L61.70,299.00 L62.10,299.00 L62.50,299.00 L62.90,299.00 L63.30,299.00 L63.70,299.00 L64.10,299.00 L64.50,299.00 L64.90,299.00 L65.30,299.00 L65.70,299.00 L66.10,299.00 L66.50,299.00 L66.90,299.00 L67.30,299.00 L67.70,299.00 L68.10,299.00 L68.50,299.00 L68.90,299.00 L69.30,299.00 L69.70,299.00 L70.10,299.00 L70.50,299.00 L70.90,299.00 L71.30,299.00 L71.70,299.00 L72.10,299.00 L72.50,299.00 L72.90,299.00 L73.30,299.00 L73.70,299.00 L74.10,299.00 L74.50,299.00 L74.90,299.00 L75.30,299.00 L75.70,298.99 L76.10,298.98 L76.50,298.97 L76.90,298.95 L77.30,298.93 L77.70,298.90 L78.10,298.87 L78.50,298.83 L78.90,298.78 L79.30,298.73 L79.70,298.68 L80.10,298.62 L80.50,298.55 L80.90,298.47 L81.30,298.11 L81.70,297.42 L82.10,296.43 L82.50,295.19 L82.90,293.73 L83.30,292.11 L83.70,290.36 L84.10,288.51 L84.50,285.99 L84.90,282.66 L85.30,278.67 L85.70,274.15 L86.10,269.23 L86.50,264.05 L86.90,258.74 L87.30,253.43 L87.70,248.26 L88.10,242.95 L88.50,236.80 L88.90,230.24 L89.30,223.72 L89.70,217.69 L90.10,212.63 L90.50,209.00 L90.90,206.26 L91.30,203.64 L91.70,201.22 L92.10,199.11 L92.50,197.39 L92.90,196.15 L93.30,195.49 L93.70,195.49 L94.10,196.16 L94.50,197.30 L94.90,198.73 L95.30,200.26 L95.70,201.75 L96.10,203.46 L96.50,205.39 L96.90,207.51 L97.30,209.78 L97.70,212.16 L98.10,214.63 L98.50,217.44 L98.90,220.61 L99.30,224.02 L99.70,227.57 L100.10,231.14 L100.50,234.63 L100.90,237.91 L101.30,240.89 L101.70,243.44 L102.10,245.48 L102.50,247.14 L102.90,248.71 L103.30,250.49 L103.70,252.70 L104.10,255.29 L104.50,258.14 L104.90,261.12 L105.30,264.11 L105.70,266.99 L106.10,269.65 L106.50,272.27 L106.90,274.92 L107.30,277.53 L107.70,280.06 L108.10,282.44 L108.50,284.63 L108.90,286.56 L109.30,288.29 L109.70,290.00 L110.10,291.65 L110.50,293.19 L110.90,294.56 L111.30,295.70 L111.70,296.57 L112.10,297.11 L112.50,297.53 L112.90,297.92 L113.30,298.27 L113.70,298.55 L114.10,298.78 L114.50,298.93 L114.90,299.00 L115.30,299.00 L115.70,299.00 L116.10,299.00 L116.50,299.00 L116.90,299.00 L117.30,299.00 L117.70,299.00 L118.10,299.00 L118.50,299.00 L118.90,299.00 L119.30,299.00 L119.70,299.00 L120.10,299.00 L120.50,299.00 L120.90,299.00 L121.30,299.00 L121.70,299.00 L122.10,299.00 L122.50,299.00 L122.90,299.00 L123.30,299.00 L123.70,299.00 L124.10,299.00 L124.50,299.00 L124.90,299.00 L125.30,299.00 L125.70,299.00 L126.10,299.00 L126.50,299.00 L126.90,299.00 L127.30,299.00 L127.70,299.00 L128.10,299.00 L128.50,299.00 L128.90,299.00 L129.30,299.00 L129.70,299.00 L130.10,299.00 L130.50,299.00 L130.90,299.00 L131.30,299.00" fill="none" stroke="#3a9c78" stroke-width="1.1" stroke-linejoin="round"/>
<path d="M20.90,299.00 L21.30,299.00 L21.70,299.00 L22.10,299.00 L22.50,299.00 L22.90,299.00 L23.30,299.00 L23.70,299.00 L24.10,299.00 L24.50,299.00 L24.90,299.00 L25.30,299.00 L25.70,299.00 L26.10,299.00 L26.50,299.00 L26.90,299.00 L27.30,299.00 L27.70,299.00 L28.10,299.00 L28.50,299.00 L28.90,299.00 L29.30,299.00 L29.70,299.00 L30.10,299.00 L30.50,299.00 L30.90,299.00 L31.30,299.00 L31.70,299.00 L32.10,299.00 L32.50,299.00 L32.90,299.00 L33.30,299.00 L33.70,299.00 L34.10,299.00 L34.50,299.00 L34.90,299.00 L35.30,299.00 L35.70,299.00 L36.10,299.00 L36.50,299.00 L36.90,299.00 L37.30,299.00 L37.70,299.00 L38.10,299.00 L38.50,299.00 L38.90,299.00 L39.30,299.00 L39.70,299.00 L40.10,299.00 L40.50,299.00 L40.90,299.00 L41.30,299.00 L41.70,299.00 L42.10,299.00 L42.50,299.00 L42.90,299.00 L43.30,299.00 L43.70,299.00 L44.10,299.00 L44.50,299.00 L44.90,299.00 L45.30,299.00 L45.70,299.00 L46.10,299.00 L46.50,299.00 L46.90,299.00 L47.30,299.00 L47.70,299.00 L48.10,299.00 L48.50,299.00 L48.90,299.00 L49.30,299.00 L49.70,299.00 L50.10,299.00 L50.50,299.00 L50.90,299.00 L51.30,299.00 L51.70,299.00 L52.10,299.00 L52.50,299.00 L52.90,299.00 L53.30,299.00 L53.70,299.00 L54.10,299.00 L54.50,299.00 L54.90,299.00 L55.30,299.00 L55.70,299.00 L56.10,299.00 L56.50,299.00 L56.90,299.00 L57.30,299.00 L57.70,299.00 L58.10,299.00 L58.50,299.00 L58.90,299.00 L59.30,299.00 L59.70,299.00 L60.10,299.00 L60.50,299.00 L60.90,299.00 L61.30,299.00 L61.70,299.00 L62.10,299.00 L62.50,299.00 L62.90,299.00 L63.30,299.00 L63.70,299.00 L64.10,299.00 L64.50,299.00 L64.90,299.00 L65.30,299.00 L65.70,299.00 L66.10,299.00 L66.50,299.00 L66.90,299.00 L67.30,299.00 L67.70,299.00 L68.10,299.00 L68.50,299.00 L68.90,299.00 L69.30,299.00 L69.70,299.00 L70.10,299.00 L70.50,299.00 L70.90,299.00 L71.30,299.00 L71.70,299.00 L72.10,299.00 L72.50,299.00 L72.90,299.00 L73.30,299.00 L73.70,299.00 L74.10,299.00 L74.50,299.00 L74.90,299.00 L75.30,299.00 L75.70,299.00 L76.10,299.00 L76.50,299.00 L76.90,299.00 L77.30,299.00 L77.70,299.00 L78.10,299.00 L78.50,299.00 L78.90,299.00 L79.30,299.00 L79.70,299.00 L80.10,299.00 L80.50,299.00 L80.90,299.00 L81.30,299.00 L81.70,299.00 L82.10,299.00 L82.50,299.00 L82.90,299.00 L83.30,299.00 L83.70,298.99 L84.10,298.99 L84.50,298.98 L84.90,298.97 L85.30,298.96 L85.70,298.94 L86.10,298.92 L86.50,298.88 L86.90,298.83 L87.30,298.76 L87.70,298.67 L88.10,298.54 L88.50,298.36 L88.90,298.13 L89.30,297.82 L89.70,297.42 L90.10,296.90 L90.50,296.23 L90.90,295.39 L91.30,294.35 L91.70,293.05 L92.10,291.47 L92.50,289.55 L92.90,287.27 L93.30,284.58 L93.70,281.43 L94.10,277.82 L94.50,273.72 L94.90,269.12 L95.30,264.03 L95.70,258.50 L96.10,252.56 L96.50,246.30 L96.90,239.82 L97.30,233.23 L97.70,226.68 L98.10,220.33 L98.50,214.35 L98.90,208.91 L99.30,204.21 L99.70,200.42 L100.10,197.70 L100.50,196.21 L100.90,196.20 L101.30,197.61 L101.70,200.20 L102.10,203.81 L102.50,208.30 L102.90,213.50 L103.30,219.24 L103.70,225.37 L104.10,231.71 L104.50,238.13 L104.90,244.48 L105.30,250.65 L105.70,256.53 L106.10,262.06 L106.50,267.18 L106.90,271.85 L107.30,276.05 L107.70,279.79 L108.10,283.06 L108.50,285.90 L108.90,288.34 L109.30,290.40 L109.70,292.12 L110.10,293.55 L110.50,294.73 L110.90,295.68 L111.30,296.44 L111.70,297.04 L112.10,297.52 L112.50,297.89 L112.90,298.17 L113.30,298.39 L113.70,298.55 L114.10,298.68 L114.50,298.77 L114.90,298.84 L115.30,298.88 L115.70,298.92 L116.10,298.94 L116.50,298.96 L116.90,298.97 L117.30,298.98 L117.70,298.99 L118.10,298.99 L118.50,298.99 L118.90,299.00 L119.30,299.00 L119.70,299.00 L120.10,299.00 L120.50,299.00 L120.90,299.00 L121.30,299.00 L121.70,299.00 L122.10,299.00 L122.50,299.00 L122.90,299.00 L123.30,299.00 L123.70,299.00 L124.10,299.00 L124.50,299.00 L124.90,299.00 L125.30,299.00 L125.70,299.00 L126.10,299.00 L126.50,299.00 L126.90,299.00 L127.30,299.00 L127.70,299.00 L128.10,299.00 L128.50,299.00 L128.90,299.00 L129.30,299.00 L129.70,299.00 L130.10,299.00 L130.50,299.00 L130.90,299.00 L131.30,299.00" fill="none" stroke="#1a1a1a" stroke-width="1.45" stroke-linejoin="round"/>
<path d="M20.90,299.00 L21.30,299.00 L21.70,299.00 L22.10,299.00 L22.50,299.00 L22.90,299.00 L23.30,299.00 L23.70,299.00 L24.10,299.00 L24.50,299.00 L24.90,299.00 L25.30,299.00 L25.70,299.00 L26.10,299.00 L26.50,299.00 L26.90,299.00 L27.30,299.00 L27.70,299.00 L28.10,299.00 L28.50,299.00 L28.90,299.00 L29.30,299.00 L29.70,299.00 L30.10,299.00 L30.50,299.00 L30.90,299.00 L31.30,299.00 L31.70,299.00 L32.10,299.00 L32.50,299.00 L32.90,299.00 L33.30,299.00 L33.70,299.00 L34.10,299.00 L34.50,299.00 L34.90,299.00 L35.30,299.00 L35.70,299.00 L36.10,299.00 L36.50,299.00 L36.90,299.00 L37.30,299.00 L37.70,299.00 L38.10,299.00 L38.50,299.00 L38.90,299.00 L39.30,299.00 L39.70,299.00 L40.10,299.00 L40.50,299.00 L40.90,299.00 L41.30,299.00 L41.70,299.00 L42.10,299.00 L42.50,299.00 L42.90,299.00 L43.30,299.00 L43.70,299.00 L44.10,299.00 L44.50,299.00 L44.90,299.00 L45.30,299.00 L45.70,299.00 L46.10,299.00 L46.50,299.00 L46.90,299.00 L47.30,299.00 L47.70,299.00 L48.10,299.00 L48.50,299.00 L48.90,299.00 L49.30,299.00 L49.70,299.00 L50.10,299.00 L50.50,299.00 L50.90,299.00 L51.30,299.00 L51.70,299.00 L52.10,299.00 L52.50,299.00 L52.90,299.00 L53.30,299.00 L53.70,299.00 L54.10,299.00 L54.50,299.00 L54.90,299.00 L55.30,299.00 L55.70,299.00 L56.10,299.00 L56.50,299.00 L56.90,299.00 L57.30,299.00 L57.70,299.00 L58.10,299.00 L58.50,299.00 L58.90,299.00 L59.30,299.00 L59.70,299.00 L60.10,299.00 L60.50,299.00 L60.90,299.00 L61.30,299.00 L61.70,299.00 L62.10,299.00 L62.50,299.00 L62.90,299.00 L63.30,299.00 L63.70,299.00 L64.10,299.00 L64.50,299.00 L64.90,299.00 L65.30,299.00 L65.70,299.00 L66.10,299.00 L66.50,299.00 L66.90,299.00 L67.30,299.00 L67.70,299.00 L68.10,299.00 L68.50,299.00 L68.90,299.00 L69.30,299.00 L69.70,299.00 L70.10,299.00 L70.50,299.00 L70.90,299.00 L71.30,299.00 L71.70,299.00 L72.10,299.00 L72.50,299.00 L72.90,299.00 L73.30,299.00 L73.70,299.00 L74.10,299.00 L74.50,299.00 L74.90,299.00 L75.30,299.00 L75.70,298.99 L76.10,298.98 L76.50,298.97 L76.90,298.95 L77.30,298.93 L77.70,298.90 L78.10,298.87 L78.50,298.83 L78.90,298.78 L79.30,298.73 L79.70,298.68 L80.10,298.62 L80.50,298.55 L80.90,298.47 L81.30,298.11 L81.70,297.42 L82.10,296.43 L82.50,295.19 L82.90,293.73 L83.30,292.11 L83.70,290.36 L84.10,288.51 L84.50,285.99 L84.90,282.66 L85.30,278.67 L85.70,274.15 L86.10,269.23 L86.50,264.05 L86.90,258.74 L87.30,253.43 L87.70,248.26 L88.10,242.99 L88.50,237.01 L88.90,230.65 L89.30,224.29 L89.70,218.31 L90.10,213.09 L90.50,209.00 L90.90,205.54 L91.30,202.17 L91.70,199.17 L92.10,196.87 L92.50,195.58 L92.90,195.49 L93.30,196.17 L93.70,197.41 L94.10,199.06 L94.50,201.00 L94.90,204.47 L95.30,210.01 L95.70,216.45 L96.10,222.63 L96.50,227.95 L96.90,233.20 L97.30,238.36 L97.70,243.38 L98.10,248.19 L98.50,253.02 L98.90,257.81 L99.30,262.34 L99.70,266.40 L100.10,269.79 L100.50,272.82 L100.90,275.67 L101.30,278.31 L101.70,280.74 L102.10,282.94 L102.50,284.91 L102.90,286.61 L103.30,288.12 L103.70,289.57 L104.10,290.95 L104.50,292.25 L104.90,293.44 L105.30,294.50 L105.70,295.43 L106.10,296.19 L106.50,296.78 L106.90,297.19 L107.30,297.57 L107.70,297.91 L108.10,298.23 L108.50,298.50 L108.90,298.72 L109.30,298.88 L109.70,298.98 L110.10,299.00 L110.50,299.00 L110.90,299.00 L111.30,299.00 L111.70,299.00 L112.10,299.00 L112.50,299.00 L112.90,299.00 L113.30,299.00 L113.70,299.00 L114.10,299.00 L114.50,299.00 L114.90,299.00 L115.30,299.00 L115.70,299.00 L116.10,299.00 L116.50,299.00 L116.90,299.00 L117.30,299.00 L117.70,299.00 L118.10,299.00 L118.50,299.00 L118.90,299.00 L119.30,299.00 L119.70,299.00 L120.10,299.00 L120.50,299.00 L120.90,299.00 L121.30,299.00 L121.70,299.00 L122.10,299.00 L122.50,299.00 L122.90,299.00 L123.30,299.00 L123.70,299.00 L124.10,299.00 L124.50,299.00 L124.90,299.00 L125.30,299.00 L125.70,299.00 L126.10,299.00 L126.50,299.00 L126.90,299.00 L127.30,299.00 L127.70,299.00 L128.10,299.00 L128.50,299.00 L128.90,299.00 L129.30,299.00 L129.70,299.00 L130.10,299.00 L130.50,299.00 L130.90,299.00 L131.30,299.00" fill="none" stroke="#c24456" stroke-width="1.3" stroke-linejoin="round"/>
<line x1="20.40" y1="189.00" x2="20.40" y2="299.80" stroke="#555" stroke-width="1.1"/>
<line x1="19.00" y1="293.80" x2="20.40" y2="293.80" stroke="#555" stroke-width="0.8"/>
<line x1="19.00" y1="288.60" x2="20.40" y2="288.60" stroke="#555" stroke-width="0.8"/>
<line x1="19.00" y1="283.40" x2="20.40" y2="283.40" stroke="#555" stroke-width="0.8"/>
<line x1="18.00" y1="278.20" x2="20.40" y2="278.20" stroke="#555" stroke-width="0.8"/>
<line x1="19.00" y1="273.00" x2="20.40" y2="273.00" stroke="#555" stroke-width="0.8"/>
<line x1="19.00" y1="267.80" x2="20.40" y2="267.80" stroke="#555" stroke-width="0.8"/>
<line x1="19.00" y1="262.60" x2="20.40" y2="262.60" stroke="#555" stroke-width="0.8"/>
<line x1="18.00" y1="257.40" x2="20.40" y2="257.40" stroke="#555" stroke-width="0.8"/>
<line x1="19.00" y1="252.20" x2="20.40" y2="252.20" stroke="#555" stroke-width="0.8"/>
<line x1="19.00" y1="247.00" x2="20.40" y2="247.00" stroke="#555" stroke-width="0.8"/>
<line x1="19.00" y1="241.80" x2="20.40" y2="241.80" stroke="#555" stroke-width="0.8"/>
<line x1="18.00" y1="236.60" x2="20.40" y2="236.60" stroke="#555" stroke-width="0.8"/>
<line x1="19.00" y1="231.40" x2="20.40" y2="231.40" stroke="#555" stroke-width="0.8"/>
<line x1="19.00" y1="226.20" x2="20.40" y2="226.20" stroke="#555" stroke-width="0.8"/>
<line x1="19.00" y1="221.00" x2="20.40" y2="221.00" stroke="#555" stroke-width="0.8"/>
<line x1="18.00" y1="215.80" x2="20.40" y2="215.80" stroke="#555" stroke-width="0.8"/>
<line x1="19.00" y1="210.60" x2="20.40" y2="210.60" stroke="#555" stroke-width="0.8"/>
<line x1="19.00" y1="205.40" x2="20.40" y2="205.40" stroke="#555" stroke-width="0.8"/>
<line x1="19.00" y1="200.20" x2="20.40" y2="200.20" stroke="#555" stroke-width="0.8"/>
<line x1="18.00" y1="195.00" x2="20.40" y2="195.00" stroke="#555" stroke-width="0.8"/>
<line x1="22.40" y1="299.00" x2="22.40" y2="301.60" stroke="#444" stroke-width="0.8"/>
<line x1="30.46" y1="299.00" x2="30.46" y2="300.60" stroke="#444" stroke-width="0.8"/>
<line x1="35.17" y1="299.00" x2="35.17" y2="300.60" stroke="#444" stroke-width="0.8"/>
<line x1="38.52" y1="299.00" x2="38.52" y2="300.60" stroke="#444" stroke-width="0.8"/>
<line x1="41.11" y1="299.00" x2="41.11" y2="300.60" stroke="#444" stroke-width="0.8"/>
<line x1="43.23" y1="299.00" x2="43.23" y2="300.60" stroke="#444" stroke-width="0.8"/>
<line x1="45.03" y1="299.00" x2="45.03" y2="300.60" stroke="#444" stroke-width="0.8"/>
<line x1="46.58" y1="299.00" x2="46.58" y2="300.60" stroke="#444" stroke-width="0.8"/>
<line x1="47.95" y1="299.00" x2="47.95" y2="300.60" stroke="#444" stroke-width="0.8"/>
<line x1="49.17" y1="299.00" x2="49.17" y2="301.60" stroke="#444" stroke-width="0.8"/>
<line x1="57.24" y1="299.00" x2="57.24" y2="300.60" stroke="#444" stroke-width="0.8"/>
<line x1="61.95" y1="299.00" x2="61.95" y2="300.60" stroke="#444" stroke-width="0.8"/>
<line x1="65.30" y1="299.00" x2="65.30" y2="300.60" stroke="#444" stroke-width="0.8"/>
<line x1="67.89" y1="299.00" x2="67.89" y2="300.60" stroke="#444" stroke-width="0.8"/>
<line x1="70.01" y1="299.00" x2="70.01" y2="300.60" stroke="#444" stroke-width="0.8"/>
<line x1="71.80" y1="299.00" x2="71.80" y2="300.60" stroke="#444" stroke-width="0.8"/>
<line x1="73.36" y1="299.00" x2="73.36" y2="300.60" stroke="#444" stroke-width="0.8"/>
<line x1="74.72" y1="299.00" x2="74.72" y2="300.60" stroke="#444" stroke-width="0.8"/>
<line x1="75.95" y1="299.00" x2="75.95" y2="301.60" stroke="#444" stroke-width="0.8"/>
<line x1="84.01" y1="299.00" x2="84.01" y2="300.60" stroke="#444" stroke-width="0.8"/>
<line x1="88.72" y1="299.00" x2="88.72" y2="300.60" stroke="#444" stroke-width="0.8"/>
<line x1="92.07" y1="299.00" x2="92.07" y2="300.60" stroke="#444" stroke-width="0.8"/>
<line x1="94.66" y1="299.00" x2="94.66" y2="300.60" stroke="#444" stroke-width="0.8"/>
<line x1="96.78" y1="299.00" x2="96.78" y2="300.60" stroke="#444" stroke-width="0.8"/>
<line x1="98.58" y1="299.00" x2="98.58" y2="300.60" stroke="#444" stroke-width="0.8"/>
<line x1="100.13" y1="299.00" x2="100.13" y2="300.60" stroke="#444" stroke-width="0.8"/>
<line x1="101.50" y1="299.00" x2="101.50" y2="300.60" stroke="#444" stroke-width="0.8"/>
<line x1="102.72" y1="299.00" x2="102.72" y2="301.60" stroke="#444" stroke-width="0.8"/>
<line x1="110.79" y1="299.00" x2="110.79" y2="300.60" stroke="#444" stroke-width="0.8"/>
<line x1="115.50" y1="299.00" x2="115.50" y2="300.60" stroke="#444" stroke-width="0.8"/>
<line x1="118.85" y1="299.00" x2="118.85" y2="300.60" stroke="#444" stroke-width="0.8"/>
<line x1="121.44" y1="299.00" x2="121.44" y2="300.60" stroke="#444" stroke-width="0.8"/>
<line x1="123.56" y1="299.00" x2="123.56" y2="300.60" stroke="#444" stroke-width="0.8"/>
<line x1="125.35" y1="299.00" x2="125.35" y2="300.60" stroke="#444" stroke-width="0.8"/>
<line x1="126.91" y1="299.00" x2="126.91" y2="300.60" stroke="#444" stroke-width="0.8"/>
<line x1="128.27" y1="299.00" x2="128.27" y2="300.60" stroke="#444" stroke-width="0.8"/>
<line x1="20.40" y1="299.00" x2="131.50" y2="299.00" stroke="#444" stroke-width="1.1" />
<line x1="20.90" y1="298.70" x2="131.50" y2="298.70" stroke="#c24456" stroke-width="1.0" />
</svg>
</body></html>
